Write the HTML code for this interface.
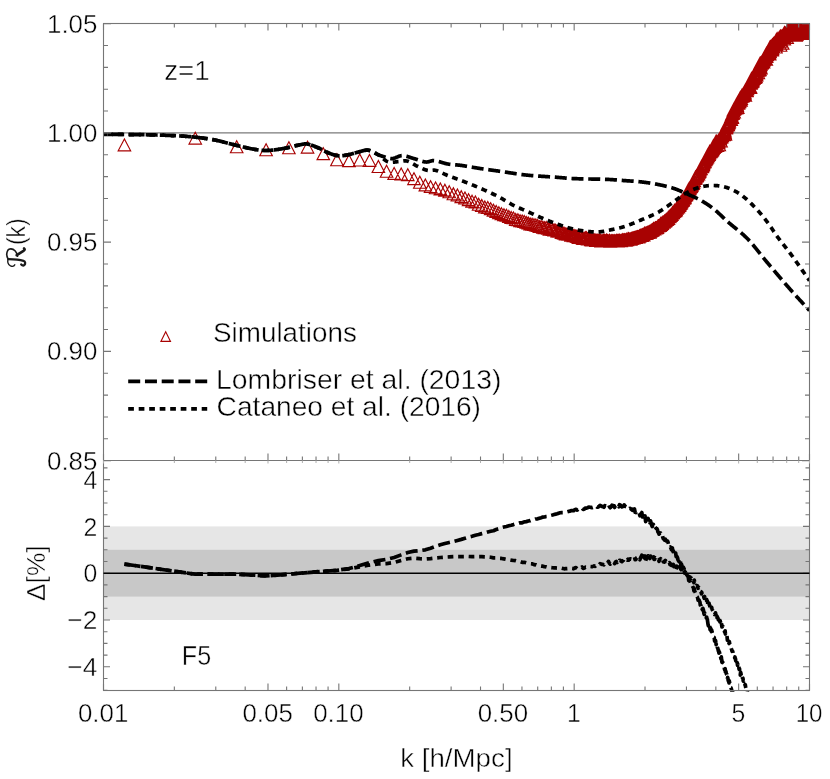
<!DOCTYPE html><html><head><meta charset="utf-8"><title>plot</title><style>html,body{margin:0;padding:0;background:#fff}svg{display:block}text{font-family:"Liberation Sans",sans-serif;fill:#000;stroke:#fff;stroke-width:0.45px}</style></head><body>
<svg width="830" height="779" viewBox="0 0 830 779">
<rect width="830" height="779" fill="#fff"/>
<g style="mix-blend-mode:multiply"><rect x="0" y="0" width="1" height="1" fill="#fff"/></g>
<defs><clipPath id="ct"><rect x="103.5" y="23.0" width="706.5" height="437.5"/></clipPath><clipPath id="cb"><rect x="103.5" y="460.5" width="706.0" height="231.2"/></clipPath></defs>
<rect x="103.5" y="526.40" width="706.0" height="93.60" fill="#e6e6e6"/>
<rect x="103.5" y="549.80" width="706.0" height="46.80" fill="#c8c8c8"/>
<line x1="103.5" x2="809.5" y1="132.9" y2="132.9" stroke="#7a7a7a" stroke-width="1.2"/>
<g clip-path="url(#ct)"><path d="M118.16 150.80 L130.66 150.80 L124.41 138.90 Z M189.00 144.05 L201.50 144.05 L195.25 132.15 Z M230.44 152.75 L242.94 152.75 L236.69 140.85 Z M259.84 155.75 L272.34 155.75 L266.09 143.85 Z M282.65 153.75 L295.15 153.75 L288.90 141.85 Z M301.28 153.05 L313.78 153.05 L307.53 141.15 Z M317.04 159.65 L329.54 159.65 L323.29 147.75 Z M330.69 165.75 L343.19 165.75 L336.94 153.85 Z M342.72 166.65 L355.22 166.65 L348.97 154.75 Z M353.49 165.95 L365.99 165.95 L359.74 154.05 Z M363.23 166.35 L375.73 166.35 L369.48 154.45 Z M372.13 172.45 L384.63 172.45 L378.38 160.55 Z M380.31 177.25 L392.81 177.25 L386.56 165.35 Z M387.88 179.35 L400.38 179.35 L394.13 167.45 Z M394.93 179.95 L407.43 179.95 L401.18 168.05 Z M401.53 180.55 L414.03 180.55 L407.78 168.65 Z M407.72 184.55 L420.22 184.55 L413.97 172.65 Z M413.57 188.25 L426.07 188.25 L419.82 176.35 Z M419.09 190.94 L431.59 190.94 L425.34 179.04 Z M424.33 192.52 L436.83 192.52 L430.58 180.62 Z M429.32 193.77 L441.82 193.77 L435.57 181.87 Z M434.07 194.89 L446.57 194.89 L440.32 182.99 Z M438.62 196.13 L451.12 196.13 L444.87 184.23 Z M442.97 197.75 L455.47 197.75 L449.22 185.85 Z M447.14 199.76 L459.64 199.76 L453.39 187.86 Z M451.15 200.96 L463.65 200.96 L457.40 189.06 Z M455.01 202.64 L467.51 202.64 L461.26 190.74 Z M458.72 203.97 L471.22 203.97 L464.97 192.07 Z M462.31 205.64 L474.81 205.64 L468.56 193.74 Z M465.77 207.08 L478.27 207.08 L472.02 195.18 Z M469.13 207.92 L481.63 207.92 L475.38 196.02 Z M472.37 210.24 L484.87 210.24 L478.62 198.34 Z M475.52 211.51 L488.02 211.51 L481.77 199.61 Z M478.57 212.86 L491.07 212.86 L484.82 200.96 Z M481.53 213.38 L494.03 213.38 L487.78 201.48 Z M484.41 214.60 L496.91 214.60 L490.66 202.70 Z M487.21 216.08 L499.71 216.08 L493.46 204.18 Z M489.93 217.34 L502.43 217.34 L496.18 205.44 Z M492.59 218.67 L505.09 218.67 L498.84 206.77 Z M495.18 219.55 L507.68 219.55 L501.43 207.65 Z M497.70 220.71 L510.20 220.71 L503.95 208.81 Z M500.16 221.23 L512.66 221.23 L506.41 209.33 Z M502.57 222.44 L515.07 222.44 L508.82 210.54 Z M504.92 223.32 L517.42 223.32 L511.17 211.42 Z M507.21 223.77 L519.71 223.77 L513.46 211.87 Z M509.46 225.40 L521.96 225.40 L515.71 213.50 Z M511.66 225.76 L524.16 225.76 L517.91 213.86 Z M513.81 226.72 L526.31 226.72 L520.06 214.82 Z M515.92 226.81 L528.42 226.81 L522.17 214.91 Z M517.98 227.46 L530.48 227.46 L524.23 215.56 Z M520.01 228.28 L532.51 228.28 L526.26 216.38 Z M521.99 229.01 L534.49 229.01 L528.24 217.11 Z M523.94 229.85 L536.44 229.85 L530.19 217.95 Z M525.85 230.26 L538.35 230.26 L532.10 218.36 Z M527.72 230.52 L540.22 230.52 L533.97 218.62 Z M529.57 230.82 L542.07 230.82 L535.82 218.92 Z M531.37 231.44 L543.87 231.44 L537.62 219.54 Z M533.15 232.52 L545.65 232.52 L539.40 220.62 Z M534.90 232.27 L547.40 232.27 L541.15 220.37 Z M536.62 233.09 L549.12 233.09 L542.87 221.19 Z M538.31 233.59 L550.81 233.59 L544.56 221.69 Z M539.97 233.34 L552.47 233.34 L546.22 221.44 Z M541.60 234.29 L554.10 234.29 L547.85 222.39 Z M543.21 235.13 L555.71 235.13 L549.46 223.23 Z M544.80 234.38 L557.30 234.38 L551.05 222.48 Z M546.36 235.37 L558.86 235.37 L552.61 223.47 Z M547.89 235.86 L560.39 235.86 L554.14 223.96 Z M549.41 236.02 L561.91 236.02 L555.66 224.12 Z M550.90 236.90 L563.40 236.90 L557.15 225.00 Z M552.37 237.13 L564.87 237.13 L558.62 225.23 Z M553.82 237.08 L566.32 237.08 L560.07 225.18 Z M555.25 238.33 L567.75 238.33 L561.50 226.43 Z M556.66 238.72 L569.16 238.72 L562.91 226.82 Z M558.05 239.27 L570.55 239.27 L564.30 227.37 Z M559.42 239.88 L571.92 239.88 L565.67 227.98 Z M560.78 239.93 L573.28 239.93 L567.03 228.03 Z M562.11 240.27 L574.61 240.27 L568.36 228.37 Z M563.43 240.17 L575.93 240.17 L569.68 228.27 Z M564.73 241.22 L577.23 241.22 L570.98 229.32 Z M566.02 241.16 L578.52 241.16 L572.27 229.26 Z M567.29 241.55 L579.79 241.55 L573.54 229.65 Z M568.54 241.58 L581.04 241.58 L574.79 229.68 Z M569.78 241.99 L582.28 241.99 L576.03 230.09 Z M571.01 242.44 L583.51 242.44 L577.26 230.54 Z M572.21 243.37 L584.71 243.37 L578.46 231.47 Z M573.41 242.48 L585.91 242.48 L579.66 230.58 Z M574.59 242.94 L587.09 242.94 L580.84 231.04 Z M575.76 243.79 L588.26 243.79 L582.01 231.89 Z M576.91 244.45 L589.41 244.45 L583.16 232.55 Z M578.06 244.37 L590.56 244.37 L584.31 232.47 Z M579.19 243.72 L591.69 243.72 L585.44 231.82 Z M580.30 243.71 L592.80 243.71 L586.55 231.81 Z M581.41 244.91 L593.91 244.91 L587.66 233.01 Z M582.50 244.71 L595.00 244.71 L588.75 232.81 Z M583.58 244.74 L596.08 244.74 L589.83 232.84 Z M584.65 245.64 L597.15 245.64 L590.90 233.74 Z M585.71 245.83 L598.21 245.83 L591.96 233.93 Z M586.76 245.63 L599.26 245.63 L593.01 233.73 Z M587.80 245.79 L600.30 245.79 L594.05 233.89 Z M588.82 245.98 L601.32 245.98 L595.07 234.08 Z M589.84 246.50 L602.34 246.50 L596.09 234.60 Z M590.85 246.26 L603.35 246.26 L597.10 234.36 Z M591.85 246.32 L604.35 246.32 L598.10 234.42 Z M592.83 246.41 L605.33 246.41 L599.08 234.51 Z M593.81 245.75 L606.31 245.75 L600.06 233.85 Z M594.78 246.82 L607.28 246.82 L601.03 234.92 Z M595.74 246.77 L608.24 246.77 L601.99 234.87 Z M596.69 246.67 L609.19 246.67 L602.94 234.77 Z M597.63 245.84 L610.13 245.84 L603.88 233.94 Z M598.57 246.35 L611.07 246.35 L604.82 234.45 Z M599.49 246.90 L611.99 246.90 L605.74 235.00 Z M600.41 246.00 L612.91 246.00 L606.66 234.10 Z M601.32 246.59 L613.82 246.59 L607.57 234.69 Z M602.22 247.02 L614.72 247.02 L608.47 235.12 Z M603.11 246.22 L615.61 246.22 L609.36 234.32 Z M603.99 247.25 L616.49 247.25 L610.24 235.35 Z M604.87 246.89 L617.37 246.89 L611.12 234.99 Z M605.74 246.64 L618.24 246.64 L611.99 234.74 Z M606.60 246.80 L619.10 246.80 L612.85 234.90 Z M607.46 246.91 L619.96 246.91 L613.71 235.01 Z M608.31 246.70 L620.81 246.70 L614.56 234.80 Z M609.15 247.04 L621.65 247.04 L615.40 235.14 Z M609.98 246.38 L622.48 246.38 L616.23 234.48 Z M610.81 246.43 L623.31 246.43 L617.06 234.53 Z M611.63 246.90 L624.13 246.90 L617.88 235.00 Z M612.45 246.49 L624.95 246.49 L618.70 234.59 Z M613.25 246.11 L625.75 246.11 L619.50 234.21 Z M614.05 246.68 L626.55 246.68 L620.30 234.78 Z M614.85 246.78 L627.35 246.78 L621.10 234.88 Z M615.64 246.03 L628.14 246.03 L621.89 234.13 Z M616.42 245.60 L628.92 245.60 L622.67 233.70 Z M617.20 245.93 L629.70 245.93 L623.45 234.03 Z M617.97 245.81 L630.47 245.81 L624.22 233.91 Z M618.74 245.63 L631.24 245.63 L624.99 233.73 Z M619.50 246.10 L632.00 246.10 L625.75 234.20 Z M620.25 245.11 L632.75 245.11 L626.50 233.21 Z M621.00 245.77 L633.50 245.77 L627.25 233.87 Z M621.74 244.73 L634.24 244.73 L627.99 232.83 Z M622.48 244.75 L634.98 244.75 L628.73 232.85 Z M623.21 245.08 L635.71 245.08 L629.46 233.18 Z M623.94 245.09 L636.44 245.09 L630.19 233.19 Z M624.66 244.83 L637.16 244.83 L630.91 232.93 Z M625.38 244.47 L637.88 244.47 L631.63 232.57 Z M626.09 244.21 L638.59 244.21 L632.34 232.31 Z M626.80 244.03 L639.30 244.03 L633.05 232.13 Z M627.50 243.98 L640.00 243.98 L633.75 232.08 Z M628.20 243.52 L640.70 243.52 L634.45 231.62 Z M628.89 243.47 L641.39 243.47 L635.14 231.57 Z M629.58 243.36 L642.08 243.36 L635.83 231.46 Z M630.26 242.94 L642.76 242.94 L636.51 231.04 Z M630.94 242.99 L643.44 242.99 L637.19 231.09 Z M631.62 242.69 L644.12 242.69 L637.87 230.79 Z M632.29 242.96 L644.79 242.96 L638.54 231.06 Z M632.95 242.13 L645.45 242.13 L639.20 230.23 Z M633.62 241.62 L646.12 241.62 L639.87 229.72 Z M634.27 241.39 L646.77 241.39 L640.52 229.49 Z M634.93 241.25 L647.43 241.25 L641.18 229.35 Z M635.58 241.32 L648.08 241.32 L641.83 229.42 Z M636.22 240.62 L648.72 240.62 L642.47 228.72 Z M636.86 240.61 L649.36 240.61 L643.11 228.71 Z M637.50 240.85 L650.00 240.85 L643.75 228.95 Z M638.13 239.04 L650.63 239.04 L644.38 227.14 Z M638.76 239.27 L651.26 239.27 L645.01 227.37 Z M639.38 239.47 L651.88 239.47 L645.63 227.57 Z M640.01 239.24 L652.51 239.24 L646.26 227.34 Z M640.62 238.90 L653.12 238.90 L646.87 227.00 Z M641.24 238.38 L653.74 238.38 L647.49 226.48 Z M641.85 238.47 L654.35 238.47 L648.10 226.57 Z M642.45 238.04 L654.95 238.04 L648.70 226.14 Z M643.06 237.46 L655.56 237.46 L649.31 225.56 Z M643.66 238.18 L656.16 238.18 L649.91 226.28 Z M644.25 237.15 L656.75 237.15 L650.50 225.25 Z M644.84 236.51 L657.34 236.51 L651.09 224.61 Z M645.43 236.35 L657.93 236.35 L651.68 224.45 Z M646.02 235.98 L658.52 235.98 L652.27 224.08 Z M646.60 235.70 L659.10 235.70 L652.85 223.80 Z M647.18 234.43 L659.68 234.43 L653.43 222.53 Z M647.76 234.87 L660.26 234.87 L654.01 222.97 Z M648.33 235.04 L660.83 235.04 L654.58 223.14 Z M648.90 233.93 L661.40 233.93 L655.15 222.03 Z M649.47 233.95 L661.97 233.95 L655.72 222.05 Z M650.03 233.94 L662.53 233.94 L656.28 222.04 Z M650.59 233.53 L663.09 233.53 L656.84 221.63 Z M651.15 233.37 L663.65 233.37 L657.40 221.47 Z M651.70 231.86 L664.20 231.86 L657.95 219.96 Z M652.25 231.94 L664.75 231.94 L658.50 220.04 Z M652.80 231.54 L665.30 231.54 L659.05 219.64 Z M653.34 231.47 L665.84 231.47 L659.59 219.57 Z M653.89 231.21 L666.39 231.21 L660.14 219.31 Z M654.42 229.47 L666.92 229.47 L660.67 217.57 Z M654.96 230.36 L667.46 230.36 L661.21 218.46 Z M655.49 229.03 L667.99 229.03 L661.74 217.13 Z M656.03 229.34 L668.53 229.34 L662.28 217.44 Z M656.55 228.13 L669.05 228.13 L662.80 216.23 Z M657.08 228.26 L669.58 228.26 L663.33 216.36 Z M657.60 228.16 L670.10 228.16 L663.85 216.26 Z M658.12 227.23 L670.62 227.23 L664.37 215.33 Z M658.64 226.88 L671.14 226.88 L664.89 214.98 Z M659.15 226.62 L671.65 226.62 L665.40 214.72 Z M659.67 225.91 L672.17 225.91 L665.92 214.01 Z M660.18 225.35 L672.68 225.35 L666.43 213.45 Z M660.68 225.44 L673.18 225.44 L666.93 213.54 Z M661.19 224.78 L673.69 224.78 L667.44 212.88 Z M661.69 223.82 L674.19 223.82 L667.94 211.92 Z M662.19 224.40 L674.69 224.40 L668.44 212.50 Z M662.69 222.52 L675.19 222.52 L668.94 210.62 Z M663.18 222.76 L675.68 222.76 L669.43 210.86 Z M663.68 221.83 L676.18 221.83 L669.93 209.93 Z M664.17 221.47 L676.67 221.47 L670.42 209.57 Z M664.65 221.18 L677.15 221.18 L670.90 209.28 Z M665.14 220.49 L677.64 220.49 L671.39 208.59 Z M665.62 220.14 L678.12 220.14 L671.87 208.24 Z M666.10 218.80 L678.60 218.80 L672.35 206.90 Z M666.58 218.29 L679.08 218.29 L672.83 206.39 Z M667.06 218.59 L679.56 218.59 L673.31 206.69 Z M667.53 217.45 L680.03 217.45 L673.78 205.55 Z M668.00 216.89 L680.50 216.89 L674.25 204.99 Z M668.47 216.17 L680.97 216.17 L674.72 204.27 Z M668.94 216.71 L681.44 216.71 L675.19 204.81 Z M669.41 215.94 L681.91 215.94 L675.66 204.04 Z M669.87 215.67 L682.37 215.67 L676.12 203.77 Z M670.33 214.11 L682.83 214.11 L676.58 202.21 Z M670.79 213.91 L683.29 213.91 L677.04 202.01 Z M671.25 212.84 L683.75 212.84 L677.50 200.94 Z M671.71 213.03 L684.21 213.03 L677.96 201.13 Z M672.16 212.78 L684.66 212.78 L678.41 200.88 Z M672.61 211.10 L685.11 211.10 L678.86 199.20 Z M673.06 211.54 L685.56 211.54 L679.31 199.64 Z M673.51 210.66 L686.01 210.66 L679.76 198.76 Z M673.95 209.52 L686.45 209.52 L680.20 197.62 Z M674.39 208.09 L686.89 208.09 L680.64 196.19 Z M674.84 208.94 L687.34 208.94 L681.09 197.04 Z M675.28 207.62 L687.78 207.62 L681.53 195.72 Z M675.71 206.73 L688.21 206.73 L681.96 194.83 Z M676.15 206.53 L688.65 206.53 L682.40 194.63 Z M676.58 205.87 L689.08 205.87 L682.83 193.97 Z M677.02 205.71 L689.52 205.71 L683.27 193.81 Z M677.45 203.87 L689.95 203.87 L683.70 191.97 Z M677.87 204.20 L690.37 204.20 L684.12 192.30 Z M678.30 203.69 L690.80 203.69 L684.55 191.79 Z M678.73 202.99 L691.23 202.99 L684.98 191.09 Z M679.15 201.52 L691.65 201.52 L685.40 189.62 Z M679.57 200.56 L692.07 200.56 L685.82 188.66 Z M679.99 200.71 L692.49 200.71 L686.24 188.81 Z M680.41 199.58 L692.91 199.58 L686.66 187.68 Z M680.82 198.88 L693.32 198.88 L687.07 186.98 Z M681.24 198.82 L693.74 198.82 L687.49 186.92 Z M681.65 197.28 L694.15 197.28 L687.90 185.38 Z M682.06 195.55 L694.56 195.55 L688.31 183.65 Z M682.47 195.80 L694.97 195.80 L688.72 183.90 Z M682.88 194.34 L695.38 194.34 L689.13 182.44 Z M683.29 195.00 L695.79 195.00 L689.54 183.10 Z M683.69 194.03 L696.19 194.03 L689.94 182.13 Z M684.10 192.84 L696.60 192.84 L690.35 180.94 Z M684.50 192.45 L697.00 192.45 L690.75 180.55 Z M684.90 192.18 L697.40 192.18 L691.15 180.28 Z M685.30 191.08 L697.80 191.08 L691.55 179.18 Z M685.69 191.04 L698.19 191.04 L691.94 179.14 Z M686.09 189.60 L698.59 189.60 L692.34 177.70 Z M686.48 189.49 L698.98 189.49 L692.73 177.59 Z M686.87 189.04 L699.37 189.04 L693.12 177.14 Z M687.26 188.42 L699.76 188.42 L693.51 176.52 Z M687.65 186.48 L700.15 186.48 L693.90 174.58 Z M688.04 186.64 L700.54 186.64 L694.29 174.74 Z M688.43 184.43 L700.93 184.43 L694.68 172.53 Z M688.81 184.18 L701.31 184.18 L695.06 172.28 Z M689.20 183.00 L701.70 183.00 L695.45 171.10 Z M689.58 184.04 L702.08 184.04 L695.83 172.14 Z M689.96 182.06 L702.46 182.06 L696.21 170.16 Z M690.34 182.09 L702.84 182.09 L696.59 170.19 Z M690.72 181.32 L703.22 181.32 L696.97 169.42 Z M691.09 180.75 L703.59 180.75 L697.34 168.85 Z M691.47 179.76 L703.97 179.76 L697.72 167.86 Z M691.84 179.58 L704.34 179.58 L698.09 167.68 Z M692.21 179.84 L704.71 179.84 L698.46 167.94 Z M692.59 178.14 L705.09 178.14 L698.84 166.24 Z M692.95 177.76 L705.45 177.76 L699.20 165.86 Z M693.32 177.38 L705.82 177.38 L699.57 165.48 Z M693.69 176.00 L706.19 176.00 L699.94 164.10 Z M694.06 174.69 L706.56 174.69 L700.31 162.79 Z M694.42 174.45 L706.92 174.45 L700.67 162.55 Z M694.78 174.79 L707.28 174.79 L701.03 162.89 Z M695.15 172.45 L707.65 172.45 L701.40 160.55 Z M695.51 172.44 L708.01 172.44 L701.76 160.54 Z M695.86 172.78 L708.36 172.78 L702.11 160.88 Z M696.22 172.00 L708.72 172.00 L702.47 160.10 Z M696.58 170.85 L709.08 170.85 L702.83 158.95 Z M696.94 170.71 L709.44 170.71 L703.19 158.81 Z M697.29 169.66 L709.79 169.66 L703.54 157.76 Z M697.64 168.16 L710.14 168.16 L703.89 156.26 Z M697.99 167.27 L710.49 167.27 L704.24 155.37 Z M698.34 167.23 L710.84 167.23 L704.59 155.33 Z M698.69 167.61 L711.19 167.61 L704.94 155.71 Z M699.04 166.02 L711.54 166.02 L705.29 154.12 Z M699.39 165.17 L711.89 165.17 L705.64 153.27 Z M699.74 164.64 L712.24 164.64 L705.99 152.74 Z M700.08 163.52 L712.58 163.52 L706.33 151.62 Z M700.42 163.86 L712.92 163.86 L706.67 151.96 Z M700.77 162.54 L713.27 162.54 L707.02 150.64 Z M701.11 162.99 L713.61 162.99 L707.36 151.09 Z M701.45 160.55 L713.95 160.55 L707.70 148.65 Z M701.79 161.79 L714.29 161.79 L708.04 149.89 Z M702.12 160.55 L714.62 160.55 L708.37 148.65 Z M702.46 159.09 L714.96 159.09 L708.71 147.19 Z M702.80 160.36 L715.30 160.36 L709.05 148.46 Z M703.13 159.11 L715.63 159.11 L709.38 147.21 Z M703.46 157.20 L715.96 157.20 L709.71 145.30 Z M703.80 157.60 L716.30 157.60 L710.05 145.70 Z M704.13 157.88 L716.63 157.88 L710.38 145.98 Z M704.46 156.83 L716.96 156.83 L710.71 144.93 Z M704.79 157.20 L717.29 157.20 L711.04 145.30 Z M705.12 156.68 L717.62 156.68 L711.37 144.78 Z M705.44 156.13 L717.94 156.13 L711.69 144.23 Z M705.77 155.40 L718.27 155.40 L712.02 143.50 Z M706.09 155.65 L718.59 155.65 L712.34 143.75 Z M706.42 154.70 L718.92 154.70 L712.67 142.80 Z M706.74 154.08 L719.24 154.08 L712.99 142.18 Z M707.06 151.76 L719.56 151.76 L713.31 139.86 Z M707.38 153.50 L719.88 153.50 L713.63 141.60 Z M707.70 153.36 L720.20 153.36 L713.95 141.46 Z M708.02 151.72 L720.52 151.72 L714.27 139.82 Z M708.34 151.15 L720.84 151.15 L714.59 139.25 Z M708.66 152.52 L721.16 152.52 L714.91 140.62 Z M708.97 149.29 L721.47 149.29 L715.22 137.39 Z M709.29 150.55 L721.79 150.55 L715.54 138.65 Z M709.60 151.60 L722.10 151.60 L715.85 139.70 Z M709.91 147.01 L722.41 147.01 L716.16 135.11 Z M710.23 149.08 L722.73 149.08 L716.48 137.18 Z M710.54 147.62 L723.04 147.62 L716.79 135.72 Z M710.85 148.42 L723.35 148.42 L717.10 136.52 Z M711.16 151.52 L723.66 151.52 L717.41 139.62 Z M711.47 148.31 L723.97 148.31 L717.72 136.41 Z M711.77 147.44 L724.27 147.44 L718.02 135.54 Z M712.08 146.38 L724.58 146.38 L718.33 134.48 Z M712.39 147.98 L724.89 147.98 L718.64 136.08 Z M712.69 146.33 L725.19 146.33 L718.94 134.43 Z M712.99 150.70 L725.49 150.70 L719.24 138.80 Z M713.30 144.91 L725.80 144.91 L719.55 133.01 Z M713.60 144.66 L726.10 144.66 L719.85 132.76 Z M713.90 144.24 L726.40 144.24 L720.15 132.34 Z M714.20 143.14 L726.70 143.14 L720.45 131.24 Z M714.50 143.16 L727.00 143.16 L720.75 131.26 Z M714.80 147.02 L727.30 147.02 L721.05 135.12 Z M715.09 141.41 L727.59 141.41 L721.34 129.51 Z M715.39 143.02 L727.89 143.02 L721.64 131.12 Z M715.69 141.64 L728.19 141.64 L721.94 129.74 Z M715.98 141.70 L728.48 141.70 L722.23 129.80 Z M716.28 140.61 L728.78 140.61 L722.53 128.71 Z M716.57 138.54 L729.07 138.54 L722.82 126.64 Z M716.86 138.97 L729.36 138.97 L723.11 127.07 Z M717.15 138.17 L729.65 138.17 L723.40 126.27 Z M717.44 138.13 L729.94 138.13 L723.69 126.23 Z M717.73 140.74 L730.23 140.74 L723.98 128.84 Z M718.02 136.92 L730.52 136.92 L724.27 125.02 Z M718.31 135.55 L730.81 135.55 L724.56 123.65 Z M718.60 136.85 L731.10 136.85 L724.85 124.95 Z M718.89 138.63 L731.39 138.63 L725.14 126.73 Z M719.17 140.12 L731.67 140.12 L725.42 128.22 Z M719.46 133.21 L731.96 133.21 L725.71 121.31 Z M719.74 132.99 L732.24 132.99 L725.99 121.09 Z M720.02 133.86 L732.52 133.86 L726.27 121.96 Z M720.31 133.00 L732.81 133.00 L726.56 121.10 Z M720.59 131.84 L733.09 131.84 L726.84 119.94 Z M720.87 130.03 L733.37 130.03 L727.12 118.13 Z M721.15 131.01 L733.65 131.01 L727.40 119.11 Z M721.43 129.50 L733.93 129.50 L727.68 117.60 Z M721.71 128.39 L734.21 128.39 L727.96 116.49 Z M721.99 130.65 L734.49 130.65 L728.24 118.75 Z M722.26 129.12 L734.76 129.12 L728.51 117.22 Z M722.54 127.82 L735.04 127.82 L728.79 115.92 Z M722.82 128.07 L735.32 128.07 L729.07 116.17 Z M723.09 126.85 L735.59 126.85 L729.34 114.95 Z M723.37 125.24 L735.87 125.24 L729.62 113.34 Z M723.64 125.43 L736.14 125.43 L729.89 113.53 Z M723.91 124.71 L736.41 124.71 L730.16 112.81 Z M724.19 124.40 L736.69 124.40 L730.44 112.50 Z M724.46 124.11 L736.96 124.11 L730.71 112.21 Z M724.73 122.20 L737.23 122.20 L730.98 110.30 Z M725.00 125.33 L737.50 125.33 L731.25 113.43 Z M725.27 122.02 L737.77 122.02 L731.52 110.12 Z M725.54 120.03 L738.04 120.03 L731.79 108.13 Z M725.80 123.48 L738.30 123.48 L732.05 111.58 Z M726.07 122.85 L738.57 122.85 L732.32 110.95 Z M726.34 119.42 L738.84 119.42 L732.59 107.52 Z M726.60 118.50 L739.10 118.50 L732.85 106.60 Z M726.87 119.02 L739.37 119.02 L733.12 107.12 Z M727.13 116.47 L739.63 116.47 L733.38 104.57 Z M727.40 115.50 L739.90 115.50 L733.65 103.60 Z M727.66 114.96 L740.16 114.96 L733.91 103.06 Z M727.92 118.02 L740.42 118.02 L734.17 106.12 Z M728.18 114.96 L740.68 114.96 L734.43 103.06 Z M728.44 114.40 L740.94 114.40 L734.69 102.50 Z M728.71 113.07 L741.21 113.07 L734.96 101.17 Z M728.96 112.54 L741.46 112.54 L735.21 100.64 Z M729.22 112.04 L741.72 112.04 L735.47 100.14 Z M729.48 112.48 L741.98 112.48 L735.73 100.58 Z M729.74 112.74 L742.24 112.74 L735.99 100.84 Z M730.00 110.61 L742.50 110.61 L736.25 98.71 Z M730.25 113.97 L742.75 113.97 L736.50 102.07 Z M730.51 110.16 L743.01 110.16 L736.76 98.26 Z M730.76 111.74 L743.26 111.74 L737.01 99.84 Z M731.02 110.98 L743.52 110.98 L737.27 99.08 Z M731.27 108.47 L743.77 108.47 L737.52 96.57 Z M731.53 113.31 L744.03 113.31 L737.78 101.41 Z M731.78 108.58 L744.28 108.58 L738.03 96.68 Z M732.03 107.06 L744.53 107.06 L738.28 95.16 Z M732.28 109.15 L744.78 109.15 L738.53 97.25 Z M732.53 107.95 L745.03 107.95 L738.78 96.05 Z M732.78 106.77 L745.28 106.77 L739.03 94.87 Z M733.03 108.02 L745.53 108.02 L739.28 96.12 Z M733.28 107.19 L745.78 107.19 L739.53 95.29 Z M733.53 105.54 L746.03 105.54 L739.78 93.64 Z M733.78 104.65 L746.28 104.65 L740.03 92.75 Z M734.03 103.44 L746.53 103.44 L740.28 91.54 Z M734.27 104.99 L746.77 104.99 L740.52 93.09 Z M734.52 104.38 L747.02 104.38 L740.77 92.48 Z M734.76 106.05 L747.26 106.05 L741.01 94.15 Z M735.01 104.51 L747.51 104.51 L741.26 92.61 Z M735.25 102.30 L747.75 102.30 L741.50 90.40 Z M735.50 101.32 L748.00 101.32 L741.75 89.42 Z M735.74 101.17 L748.24 101.17 L741.99 89.27 Z M735.98 101.74 L748.48 101.74 L742.23 89.84 Z M736.22 101.98 L748.72 101.98 L742.47 90.08 Z M736.46 100.72 L748.96 100.72 L742.71 88.82 Z M736.71 101.79 L749.21 101.79 L742.96 89.89 Z M736.95 100.49 L749.45 100.49 L743.20 88.59 Z M737.19 99.29 L749.69 99.29 L743.44 87.39 Z M737.42 99.88 L749.92 99.88 L743.67 87.98 Z M737.66 99.59 L750.16 99.59 L743.91 87.69 Z M737.90 100.14 L750.40 100.14 L744.15 88.24 Z M738.14 99.04 L750.64 99.04 L744.39 87.14 Z M738.38 98.04 L750.88 98.04 L744.63 86.14 Z M738.61 98.97 L751.11 98.97 L744.86 87.07 Z M738.85 96.50 L751.35 96.50 L745.10 84.60 Z M739.08 101.12 L751.58 101.12 L745.33 89.22 Z M739.32 96.77 L751.82 96.77 L745.57 84.87 Z M739.55 96.23 L752.05 96.23 L745.80 84.33 Z M739.78 96.54 L752.28 96.54 L746.03 84.64 Z M740.02 95.71 L752.52 95.71 L746.27 83.81 Z M740.25 95.27 L752.75 95.27 L746.50 83.37 Z M740.48 96.57 L752.98 96.57 L746.73 84.67 Z M740.71 96.11 L753.21 96.11 L746.96 84.21 Z M740.95 94.01 L753.45 94.01 L747.20 82.11 Z M741.18 94.78 L753.68 94.78 L747.43 82.88 Z M741.41 92.74 L753.91 92.74 L747.66 80.84 Z M741.63 92.67 L754.13 92.67 L747.88 80.77 Z M741.86 93.22 L754.36 93.22 L748.11 81.32 Z M742.09 92.56 L754.59 92.56 L748.34 80.66 Z M742.32 92.74 L754.82 92.74 L748.57 80.84 Z M742.55 91.41 L755.05 91.41 L748.80 79.51 Z M742.77 91.68 L755.27 91.68 L749.02 79.78 Z M743.00 91.84 L755.50 91.84 L749.25 79.94 Z M743.23 91.11 L755.73 91.11 L749.48 79.21 Z M743.45 88.94 L755.95 88.94 L749.70 77.04 Z M743.68 93.42 L756.18 93.42 L749.93 81.52 Z M743.90 88.99 L756.40 88.99 L750.15 77.09 Z M744.13 89.12 L756.63 89.12 L750.38 77.22 Z M744.35 93.05 L756.85 93.05 L750.60 81.15 Z M744.57 89.11 L757.07 89.11 L750.82 77.21 Z M744.79 88.75 L757.29 88.75 L751.04 76.85 Z M745.02 87.38 L757.52 87.38 L751.27 75.48 Z M745.24 84.49 L757.74 84.49 L751.49 72.59 Z M745.46 86.39 L757.96 86.39 L751.71 74.49 Z M745.68 87.59 L758.18 87.59 L751.93 75.69 Z M745.90 86.36 L758.40 86.36 L752.15 74.46 Z M746.12 86.18 L758.62 86.18 L752.37 74.28 Z M746.34 85.61 L758.84 85.61 L752.59 73.71 Z M746.56 86.93 L759.06 86.93 L752.81 75.03 Z M746.77 84.83 L759.27 84.83 L753.02 72.93 Z M746.99 84.52 L759.49 84.52 L753.24 72.62 Z M747.21 84.24 L759.71 84.24 L753.46 72.34 Z M747.43 83.62 L759.93 83.62 L753.68 71.72 Z M747.64 84.08 L760.14 84.08 L753.89 72.18 Z M747.86 81.34 L760.36 81.34 L754.11 69.44 Z M748.07 81.06 L760.57 81.06 L754.32 69.16 Z M748.29 81.48 L760.79 81.48 L754.54 69.58 Z M748.50 80.77 L761.00 80.77 L754.75 68.87 Z M748.72 83.40 L761.22 83.40 L754.97 71.50 Z M748.93 79.06 L761.43 79.06 L755.18 67.16 Z M749.14 78.58 L761.64 78.58 L755.39 66.68 Z M749.36 79.64 L761.86 79.64 L755.61 67.74 Z M749.57 80.25 L762.07 80.25 L755.82 68.35 Z M749.78 82.63 L762.28 82.63 L756.03 70.73 Z M749.99 76.78 L762.49 76.78 L756.24 64.88 Z M750.20 78.95 L762.70 78.95 L756.45 67.05 Z M750.41 80.83 L762.91 80.83 L756.66 68.93 Z M750.62 78.95 L763.12 78.95 L756.87 67.05 Z M750.83 76.04 L763.33 76.04 L757.08 64.14 Z M751.04 76.49 L763.54 76.49 L757.29 64.59 Z M751.25 76.59 L763.75 76.59 L757.50 64.69 Z M751.46 74.72 L763.96 74.72 L757.71 62.82 Z M751.67 73.14 L764.17 73.14 L757.92 61.24 Z M751.87 75.06 L764.37 75.06 L758.12 63.16 Z M752.08 78.70 L764.58 78.70 L758.33 66.80 Z M752.29 74.45 L764.79 74.45 L758.54 62.55 Z M752.49 76.09 L764.99 76.09 L758.74 64.19 Z M752.70 73.99 L765.20 73.99 L758.95 62.09 Z M752.91 73.64 L765.41 73.64 L759.16 61.74 Z M753.11 73.01 L765.61 73.01 L759.36 61.11 Z M753.32 72.61 L765.82 72.61 L759.57 60.71 Z M753.52 71.44 L766.02 71.44 L759.77 59.54 Z M753.72 75.66 L766.22 75.66 L759.97 63.76 Z M753.93 68.78 L766.43 68.78 L760.18 56.88 Z M754.13 71.56 L766.63 71.56 L760.38 59.66 Z M754.33 69.84 L766.83 69.84 L760.58 57.94 Z M754.53 70.35 L767.03 70.35 L760.78 58.45 Z M754.74 73.88 L767.24 73.88 L760.99 61.98 Z M754.94 68.70 L767.44 68.70 L761.19 56.80 Z M755.14 68.50 L767.64 68.50 L761.39 56.60 Z M755.34 69.23 L767.84 69.23 L761.59 57.33 Z M755.54 68.55 L768.04 68.55 L761.79 56.65 Z M755.74 68.43 L768.24 68.43 L761.99 56.53 Z M755.94 67.54 L768.44 67.54 L762.19 55.64 Z M756.14 66.85 L768.64 66.85 L762.39 54.95 Z M756.34 66.44 L768.84 66.44 L762.59 54.54 Z M756.53 66.78 L769.03 66.78 L762.78 54.88 Z M756.73 66.78 L769.23 66.78 L762.98 54.88 Z M756.93 65.44 L769.43 65.44 L763.18 53.54 Z M757.13 65.07 L769.63 65.07 L763.38 53.17 Z M757.32 67.90 L769.82 67.90 L763.57 56.00 Z M757.52 65.29 L770.02 65.29 L763.77 53.39 Z M757.72 65.85 L770.22 65.85 L763.97 53.95 Z M757.91 65.08 L770.41 65.08 L764.16 53.18 Z M758.11 64.95 L770.61 64.95 L764.36 53.05 Z M758.30 64.01 L770.80 64.01 L764.55 52.11 Z M758.50 63.73 L771.00 63.73 L764.75 51.83 Z M758.69 64.88 L771.19 64.88 L764.94 52.98 Z M758.88 61.53 L771.38 61.53 L765.13 49.63 Z M759.08 63.35 L771.58 63.35 L765.33 51.45 Z M759.27 61.79 L771.77 61.79 L765.52 49.89 Z M759.46 61.85 L771.96 61.85 L765.71 49.95 Z M759.66 61.28 L772.16 61.28 L765.91 49.38 Z M759.85 60.57 L772.35 60.57 L766.10 48.67 Z M760.04 65.07 L772.54 65.07 L766.29 53.17 Z M760.23 59.05 L772.73 59.05 L766.48 47.15 Z M760.42 62.41 L772.92 62.41 L766.67 50.51 Z M760.61 60.26 L773.11 60.26 L766.86 48.36 Z M760.80 60.65 L773.30 60.65 L767.05 48.75 Z M760.99 59.09 L773.49 59.09 L767.24 47.19 Z M761.18 59.24 L773.68 59.24 L767.43 47.34 Z M761.37 59.41 L773.87 59.41 L767.62 47.51 Z M761.56 58.17 L774.06 58.17 L767.81 46.27 Z M761.75 59.29 L774.25 59.29 L768.00 47.39 Z M761.94 58.14 L774.44 58.14 L768.19 46.24 Z M762.12 57.92 L774.62 57.92 L768.37 46.02 Z M762.31 57.44 L774.81 57.44 L768.56 45.54 Z M762.50 57.01 L775.00 57.01 L768.75 45.11 Z M762.68 58.57 L775.18 58.57 L768.93 46.67 Z M762.87 56.16 L775.37 56.16 L769.12 44.26 Z M763.06 58.91 L775.56 58.91 L769.31 47.01 Z M763.24 55.80 L775.74 55.80 L769.49 43.90 Z M763.43 59.97 L775.93 59.97 L769.68 48.07 Z M763.61 56.78 L776.11 56.78 L769.86 44.88 Z M763.80 57.77 L776.30 57.77 L770.05 45.87 Z M763.98 52.31 L776.48 52.31 L770.23 40.41 Z M764.17 55.12 L776.67 55.12 L770.42 43.22 Z M764.35 54.44 L776.85 54.44 L770.60 42.54 Z M764.53 55.34 L777.03 55.34 L770.78 43.44 Z M764.72 54.75 L777.22 54.75 L770.97 42.85 Z M764.90 55.48 L777.40 55.48 L771.15 43.58 Z M765.08 53.69 L777.58 53.69 L771.33 41.79 Z M765.26 51.80 L777.76 51.80 L771.51 39.90 Z M765.44 51.81 L777.94 51.81 L771.69 39.91 Z M765.63 54.23 L778.13 54.23 L771.88 42.33 Z M765.81 52.58 L778.31 52.58 L772.06 40.68 Z M765.99 55.97 L778.49 55.97 L772.24 44.07 Z M766.17 50.74 L778.67 50.74 L772.42 38.84 Z M766.35 54.59 L778.85 54.59 L772.60 42.69 Z M766.53 51.65 L779.03 51.65 L772.78 39.75 Z M766.71 51.93 L779.21 51.93 L772.96 40.03 Z M766.89 50.97 L779.39 50.97 L773.14 39.07 Z M767.07 49.92 L779.57 49.92 L773.32 38.02 Z M767.24 49.68 L779.74 49.68 L773.49 37.78 Z M767.42 49.54 L779.92 49.54 L773.67 37.64 Z M767.60 50.17 L780.10 50.17 L773.85 38.27 Z M767.78 49.78 L780.28 49.78 L774.03 37.88 Z M767.95 49.10 L780.45 49.10 L774.20 37.20 Z M768.13 49.44 L780.63 49.44 L774.38 37.54 Z M768.31 49.69 L780.81 49.69 L774.56 37.79 Z M768.48 50.30 L780.98 50.30 L774.73 38.40 Z M768.66 48.44 L781.16 48.44 L774.91 36.54 Z M768.84 48.65 L781.34 48.65 L775.09 36.75 Z M769.01 48.13 L781.51 48.13 L775.26 36.23 Z M769.19 48.70 L781.69 48.70 L775.44 36.80 Z M769.36 49.07 L781.86 49.07 L775.61 37.17 Z M769.54 48.35 L782.04 48.35 L775.79 36.45 Z M769.71 53.04 L782.21 53.04 L775.96 41.14 Z M769.88 45.98 L782.38 45.98 L776.13 34.08 Z M770.06 48.94 L782.56 48.94 L776.31 37.04 Z M770.23 50.42 L782.73 50.42 L776.48 38.52 Z M770.41 45.97 L782.91 45.97 L776.66 34.07 Z M770.58 48.92 L783.08 48.92 L776.83 37.02 Z M770.75 47.63 L783.25 47.63 L777.00 35.73 Z M770.92 44.38 L783.42 44.38 L777.17 32.48 Z M771.09 46.27 L783.59 46.27 L777.34 34.37 Z M771.27 46.14 L783.77 46.14 L777.52 34.24 Z M771.44 46.74 L783.94 46.74 L777.69 34.84 Z M771.61 47.15 L784.11 47.15 L777.86 35.25 Z M771.78 46.22 L784.28 46.22 L778.03 34.32 Z M771.95 46.18 L784.45 46.18 L778.20 34.28 Z M772.12 46.23 L784.62 46.23 L778.37 34.33 Z M772.29 46.58 L784.79 46.58 L778.54 34.68 Z M772.46 45.15 L784.96 45.15 L778.71 33.25 Z M772.63 45.26 L785.13 45.26 L778.88 33.36 Z M772.80 43.71 L785.30 43.71 L779.05 31.81 Z M772.97 44.57 L785.47 44.57 L779.22 32.67 Z M773.14 44.53 L785.64 44.53 L779.39 32.63 Z M773.30 43.68 L785.80 43.68 L779.55 31.78 Z M773.47 45.53 L785.97 45.53 L779.72 33.63 Z M773.64 44.17 L786.14 44.17 L779.89 32.27 Z M773.81 42.37 L786.31 42.37 L780.06 30.47 Z M773.97 45.27 L786.47 45.27 L780.22 33.37 Z M774.14 44.59 L786.64 44.59 L780.39 32.69 Z M774.31 51.21 L786.81 51.21 L780.56 39.31 Z M774.47 41.86 L786.97 41.86 L780.72 29.96 Z M774.64 44.51 L787.14 44.51 L780.89 32.61 Z M774.81 47.19 L787.31 47.19 L781.06 35.29 Z M774.97 43.43 L787.47 43.43 L781.22 31.53 Z M775.14 43.54 L787.64 43.54 L781.39 31.64 Z M775.30 42.72 L787.80 42.72 L781.55 30.82 Z M775.47 42.21 L787.97 42.21 L781.72 30.31 Z M775.63 42.69 L788.13 42.69 L781.88 30.79 Z M775.79 43.05 L788.29 43.05 L782.04 31.15 Z M775.96 42.19 L788.46 42.19 L782.21 30.29 Z M776.12 43.04 L788.62 43.04 L782.37 31.14 Z M776.29 42.01 L788.79 42.01 L782.54 30.11 Z M776.45 49.06 L788.95 49.06 L782.70 37.16 Z M776.61 41.71 L789.11 41.71 L782.86 29.81 Z M776.77 43.08 L789.27 43.08 L783.02 31.18 Z M776.94 40.76 L789.44 40.76 L783.19 28.86 Z M777.10 41.71 L789.60 41.71 L783.35 29.81 Z M777.26 40.62 L789.76 40.62 L783.51 28.72 Z M777.42 41.62 L789.92 41.62 L783.67 29.72 Z M777.58 40.52 L790.08 40.52 L783.83 28.62 Z M777.74 39.92 L790.24 39.92 L783.99 28.02 Z M777.90 40.79 L790.40 40.79 L784.15 28.89 Z M778.07 44.88 L790.57 44.88 L784.32 32.98 Z M778.23 38.28 L790.73 38.28 L784.48 26.38 Z M778.39 42.69 L790.89 42.69 L784.64 30.79 Z M778.55 40.97 L791.05 40.97 L784.80 29.07 Z M778.71 38.81 L791.21 38.81 L784.96 26.91 Z M778.86 39.73 L791.36 39.73 L785.11 27.83 Z M779.02 39.07 L791.52 39.07 L785.27 27.17 Z M779.18 39.41 L791.68 39.41 L785.43 27.51 Z M779.34 39.67 L791.84 39.67 L785.59 27.77 Z M779.50 39.89 L792.00 39.89 L785.75 27.99 Z M779.66 39.87 L792.16 39.87 L785.91 27.97 Z M779.82 41.54 L792.32 41.54 L786.07 29.64 Z M779.97 40.05 L792.47 40.05 L786.22 28.15 Z M780.13 40.57 L792.63 40.57 L786.38 28.67 Z M780.29 38.83 L792.79 38.83 L786.54 26.93 Z M780.44 39.40 L792.94 39.40 L786.69 27.50 Z M780.60 40.68 L793.10 40.68 L786.85 28.78 Z M780.76 39.42 L793.26 39.42 L787.01 27.52 Z M780.91 43.41 L793.41 43.41 L787.16 31.51 Z M781.07 37.45 L793.57 37.45 L787.32 25.55 Z M781.23 39.32 L793.73 39.32 L787.48 27.42 Z M781.38 38.44 L793.88 38.44 L787.63 26.54 Z M781.54 38.30 L794.04 38.30 L787.79 26.40 Z M781.69 36.33 L794.19 36.33 L787.94 24.43 Z M781.85 35.46 L794.35 35.46 L788.10 23.56 Z M782.00 38.43 L794.50 38.43 L788.25 26.53 Z M782.15 38.84 L794.65 38.84 L788.40 26.94 Z M782.31 35.51 L794.81 35.51 L788.56 23.61 Z M782.46 38.07 L794.96 38.07 L788.71 26.17 Z M782.62 37.28 L795.12 37.28 L788.87 25.38 Z M782.77 38.15 L795.27 38.15 L789.02 26.25 Z M782.92 37.22 L795.42 37.22 L789.17 25.32 Z M783.08 37.98 L795.58 37.98 L789.33 26.08 Z M783.23 38.55 L795.73 38.55 L789.48 26.65 Z M783.38 38.33 L795.88 38.33 L789.63 26.43 Z M783.53 37.71 L796.03 37.71 L789.78 25.81 Z M783.68 36.41 L796.18 36.41 L789.93 24.51 Z M783.84 35.16 L796.34 35.16 L790.09 23.26 Z M783.99 38.44 L796.49 38.44 L790.24 26.54 Z M784.14 38.25 L796.64 38.25 L790.39 26.35 Z M784.29 38.28 L796.79 38.28 L790.54 26.38 Z M784.44 36.11 L796.94 36.11 L790.69 24.21 Z M784.59 40.06 L797.09 40.06 L790.84 28.16 Z M784.74 39.34 L797.24 39.34 L790.99 27.44 Z M784.89 37.30 L797.39 37.30 L791.14 25.40 Z M785.04 36.09 L797.54 36.09 L791.29 24.19 Z M785.19 35.64 L797.69 35.64 L791.44 23.74 Z M785.34 38.43 L797.84 38.43 L791.59 26.53 Z M785.49 36.82 L797.99 36.82 L791.74 24.92 Z M785.64 36.41 L798.14 36.41 L791.89 24.51 Z M785.79 34.56 L798.29 34.56 L792.04 22.66 Z M785.94 34.08 L798.44 34.08 L792.19 22.18 Z M786.09 39.65 L798.59 39.65 L792.34 27.75 Z M786.23 36.68 L798.73 36.68 L792.48 24.78 Z M786.38 35.28 L798.88 35.28 L792.63 23.38 Z M786.53 37.13 L799.03 37.13 L792.78 25.23 Z M786.68 39.26 L799.18 39.26 L792.93 27.36 Z M786.82 38.18 L799.32 38.18 L793.07 26.28 Z M786.97 37.31 L799.47 37.31 L793.22 25.41 Z M787.12 37.09 L799.62 37.09 L793.37 25.19 Z M787.27 35.68 L799.77 35.68 L793.52 23.78 Z M787.41 35.90 L799.91 35.90 L793.66 24.00 Z M787.56 38.16 L800.06 38.16 L793.81 26.26 Z M787.70 38.37 L800.20 38.37 L793.95 26.47 Z M787.85 37.64 L800.35 37.64 L794.10 25.74 Z M788.00 37.17 L800.50 37.17 L794.25 25.27 Z M788.14 40.16 L800.64 40.16 L794.39 28.26 Z M788.29 36.68 L800.79 36.68 L794.54 24.78 Z M788.43 35.09 L800.93 35.09 L794.68 23.19 Z M788.58 37.48 L801.08 37.48 L794.83 25.58 Z M788.72 35.96 L801.22 35.96 L794.97 24.06 Z M788.87 39.48 L801.37 39.48 L795.12 27.58 Z M789.01 40.48 L801.51 40.48 L795.26 28.58 Z M789.15 40.89 L801.65 40.89 L795.40 28.99 Z M789.30 36.56 L801.80 36.56 L795.55 24.66 Z M789.44 35.67 L801.94 35.67 L795.69 23.77 Z M789.59 34.15 L802.09 34.15 L795.84 22.25 Z M789.73 35.78 L802.23 35.78 L795.98 23.88 Z M789.87 41.07 L802.37 41.07 L796.12 29.17 Z M790.01 36.75 L802.51 36.75 L796.26 24.85 Z M790.16 35.75 L802.66 35.75 L796.41 23.85 Z M790.30 35.62 L802.80 35.62 L796.55 23.72 Z M790.44 33.78 L802.94 33.78 L796.69 21.88 Z M790.58 36.14 L803.08 36.14 L796.83 24.24 Z M790.73 40.06 L803.23 40.06 L796.98 28.16 Z M790.87 36.21 L803.37 36.21 L797.12 24.31 Z M791.01 34.86 L803.51 34.86 L797.26 22.96 Z M791.15 33.42 L803.65 33.42 L797.40 21.52 Z M791.29 34.39 L803.79 34.39 L797.54 22.49 Z M791.43 35.17 L803.93 35.17 L797.68 23.27 Z M791.57 35.42 L804.07 35.42 L797.82 23.52 Z M791.71 37.32 L804.21 37.32 L797.96 25.42 Z M791.85 35.72 L804.35 35.72 L798.10 23.82 Z M791.99 35.41 L804.49 35.41 L798.24 23.51 Z M792.13 35.43 L804.63 35.43 L798.38 23.53 Z M792.27 32.58 L804.77 32.58 L798.52 20.68 Z M792.41 36.32 L804.91 36.32 L798.66 24.42 Z M792.55 34.76 L805.05 34.76 L798.80 22.86 Z M792.69 34.22 L805.19 34.22 L798.94 22.32 Z M792.83 34.11 L805.33 34.11 L799.08 22.21 Z M792.97 33.18 L805.47 33.18 L799.22 21.28 Z M793.11 35.93 L805.61 35.93 L799.36 24.03 Z M793.25 33.65 L805.75 33.65 L799.50 21.75 Z M793.38 36.23 L805.88 36.23 L799.63 24.33 Z M793.52 35.87 L806.02 35.87 L799.77 23.97 Z M793.66 37.13 L806.16 37.13 L799.91 25.23 Z M793.80 35.63 L806.30 35.63 L800.05 23.73 Z M793.93 35.67 L806.43 35.67 L800.18 23.77 Z M794.07 37.70 L806.57 37.70 L800.32 25.80 Z M794.21 36.00 L806.71 36.00 L800.46 24.10 Z M794.35 34.16 L806.85 34.16 L800.60 22.26 Z M794.48 34.00 L806.98 34.00 L800.73 22.10 Z M794.62 34.43 L807.12 34.43 L800.87 22.53 Z M794.76 34.79 L807.26 34.79 L801.01 22.89 Z M794.89 35.77 L807.39 35.77 L801.14 23.87 Z M795.03 35.12 L807.53 35.12 L801.28 23.22 Z M795.16 35.97 L807.66 35.97 L801.41 24.07 Z M795.30 35.20 L807.80 35.20 L801.55 23.30 Z M795.43 37.76 L807.93 37.76 L801.68 25.86 Z M795.57 35.92 L808.07 35.92 L801.82 24.02 Z M795.71 36.19 L808.21 36.19 L801.96 24.29 Z M795.84 33.82 L808.34 33.82 L802.09 21.92 Z M795.97 37.10 L808.47 37.10 L802.22 25.20 Z M796.11 36.59 L808.61 36.59 L802.36 24.69 Z M796.24 35.14 L808.74 35.14 L802.49 23.24 Z M796.38 35.49 L808.88 35.49 L802.63 23.59 Z M796.51 35.10 L809.01 35.10 L802.76 23.20 Z M796.65 34.18 L809.15 34.18 L802.90 22.28 Z M796.78 32.90 L809.28 32.90 L803.03 21.00 Z M796.91 39.23 L809.41 39.23 L803.16 27.33 Z M797.05 33.34 L809.55 33.34 L803.30 21.44 Z M797.18 36.17 L809.68 36.17 L803.43 24.27 Z M797.31 34.47 L809.81 34.47 L803.56 22.57 Z M797.45 35.11 L809.95 35.11 L803.70 23.21 Z M797.58 38.85 L810.08 38.85 L803.83 26.95 Z M797.71 34.61 L810.21 34.61 L803.96 22.71 Z M797.84 35.42 L810.34 35.42 L804.09 23.52 Z M797.98 35.28 L810.48 35.28 L804.23 23.38 Z M798.11 35.53 L810.61 35.53 L804.36 23.63 Z M798.24 34.51 L810.74 34.51 L804.49 22.61 Z M798.37 35.77 L810.87 35.77 L804.62 23.87 Z M798.50 34.42 L811.00 34.42 L804.75 22.52 Z M798.63 35.71 L811.13 35.71 L804.88 23.81 Z M798.76 37.19 L811.26 37.19 L805.01 25.29 Z M798.90 34.93 L811.40 34.93 L805.15 23.03 Z M799.03 34.87 L811.53 34.87 L805.28 22.97 Z M799.16 35.67 L811.66 35.67 L805.41 23.77 Z M799.29 33.51 L811.79 33.51 L805.54 21.61 Z M799.42 33.14 L811.92 33.14 L805.67 21.24 Z M799.55 36.90 L812.05 36.90 L805.80 25.00 Z M799.68 36.10 L812.18 36.10 L805.93 24.20 Z M799.81 35.38 L812.31 35.38 L806.06 23.48 Z M799.94 33.99 L812.44 33.99 L806.19 22.09 Z M800.07 35.23 L812.57 35.23 L806.32 23.33 Z M800.20 33.71 L812.70 33.71 L806.45 21.81 Z M800.32 35.61 L812.82 35.61 L806.57 23.71 Z M800.45 34.51 L812.95 34.51 L806.70 22.61 Z M800.58 34.28 L813.08 34.28 L806.83 22.38 Z M800.71 36.26 L813.21 36.26 L806.96 24.36 Z M800.84 33.64 L813.34 33.64 L807.09 21.74 Z M800.97 33.16 L813.47 33.16 L807.22 21.26 Z M801.10 36.04 L813.60 36.04 L807.35 24.14 Z M801.22 32.61 L813.72 32.61 L807.47 20.71 Z M801.35 35.84 L813.85 35.84 L807.60 23.94 Z M801.48 34.57 L813.98 34.57 L807.73 22.67 Z M801.61 37.11 L814.11 37.11 L807.86 25.21 Z M801.73 35.74 L814.23 35.74 L807.98 23.84 Z M801.86 36.00 L814.36 36.00 L808.11 24.10 Z M801.99 35.80 L814.49 35.80 L808.24 23.90 Z M802.12 36.17 L814.62 36.17 L808.37 24.27 Z M802.24 35.11 L814.74 35.11 L808.49 23.21 Z M802.37 34.59 L814.87 34.59 L808.62 22.69 Z M802.50 32.40 L815.00 32.40 L808.75 20.50 Z M802.62 37.65 L815.12 37.65 L808.87 25.75 Z M802.75 34.39 L815.25 34.39 L809.00 22.49 Z M802.87 35.51 L815.37 35.51 L809.12 23.61 Z M803.00 39.41 L815.50 39.41 L809.25 27.51 Z M803.13 36.41 L815.63 36.41 L809.38 24.51 Z" fill="none" stroke="#a80202" stroke-width="1.15" stroke-linejoin="miter"/></g>
<g clip-path="url(#ct)" fill="none" stroke="#000" stroke-width="3.7">
<path d="M103.50 134.30 L104.00 134.31 L104.50 134.31 L105.00 134.32 L105.50 134.32 L106.00 134.33 L106.50 134.33 L107.00 134.34 L107.50 134.34 L108.00 134.35 L108.50 134.35 L109.00 134.36 L109.50 134.36 L110.00 134.37 L110.50 134.37 L111.00 134.37 L111.50 134.38 L112.00 134.38 L112.50 134.39 L113.00 134.39 L113.50 134.40 L114.00 134.40 L114.50 134.40 L115.00 134.41 L115.50 134.41 L116.00 134.42 L116.50 134.42 L117.00 134.42 L117.50 134.43 L118.00 134.43 L118.50 134.44 L119.00 134.44 L119.50 134.45 L120.00 134.45 L120.50 134.45 L121.00 134.46 L121.50 134.46 L122.00 134.47 L122.50 134.47 L123.00 134.47 L123.50 134.48 L124.00 134.48 L124.50 134.49 L125.00 134.49 L125.50 134.50 L126.00 134.50 L126.50 134.50 L127.00 134.51 L127.50 134.51 L128.00 134.52 L128.50 134.52 L129.00 134.53 L129.50 134.53 L130.00 134.54 L130.50 134.54 L131.00 134.55 L131.50 134.55 L132.00 134.56 L132.50 134.56 L133.00 134.57 L133.50 134.57 L134.00 134.58 L134.50 134.59 L135.00 134.59 L135.50 134.60 L136.00 134.60 L136.50 134.61 L137.00 134.62 L137.50 134.62 L138.00 134.63 L138.50 134.64 L139.00 134.64 L139.50 134.65 L140.00 134.66 L140.50 134.67 L141.00 134.67 L141.50 134.68 L142.00 134.69 L142.50 134.70 L143.00 134.70 L143.50 134.71 L144.00 134.72 L144.50 134.73 L145.00 134.74 L145.50 134.75 L146.00 134.76 L146.50 134.77 L147.00 134.78 L147.50 134.79 L148.00 134.80 L148.50 134.81 L149.00 134.82 L149.50 134.83 L150.00 134.84 L150.50 134.85 L151.00 134.86 L151.50 134.87 L152.00 134.88 L152.50 134.90 L153.00 134.91 L153.50 134.92 L154.00 134.93 L154.50 134.94 L155.00 134.96 L155.50 134.97 L156.00 134.98 L156.50 135.00 L157.00 135.01 L157.50 135.03 L158.00 135.04 L158.50 135.05 L159.00 135.07 L159.50 135.08 L160.00 135.10 L160.50 135.12 L161.00 135.13 L161.50 135.15 L162.00 135.16 L162.50 135.18 L163.00 135.20 L163.50 135.22 L164.00 135.23 L164.50 135.25 L165.00 135.27 L165.50 135.29 L166.00 135.31 L166.50 135.32 L167.00 135.34 L167.50 135.36 L168.00 135.38 L168.50 135.40 L169.00 135.42 L169.50 135.44 L170.00 135.47 L170.50 135.49 L171.00 135.51 L171.50 135.53 L172.00 135.55 L172.50 135.58 L173.00 135.60 L173.50 135.62 L174.00 135.65 L174.50 135.67 L175.00 135.69 L175.50 135.72 L176.00 135.74 L176.50 135.77 L177.00 135.79 L177.50 135.82 L178.00 135.85 L178.50 135.87 L179.00 135.90 L179.50 135.93 L180.00 135.96 L180.50 135.99 L181.00 136.02 L181.50 136.05 L182.00 136.08 L182.50 136.11 L183.00 136.14 L183.50 136.17 L184.00 136.21 L184.50 136.24 L185.00 136.27 L185.50 136.31 L186.00 136.34 L186.50 136.38 L187.00 136.42 L187.50 136.46 L188.00 136.50 L188.50 136.54 L189.00 136.58 L189.50 136.62 L190.00 136.66 L190.50 136.71 L191.00 136.75 L191.50 136.80 L192.00 136.84 L192.50 136.89 L193.00 136.94 L193.50 136.99 L194.00 137.04 L194.50 137.09 L195.00 137.15 L195.50 137.20 L196.00 137.25 L196.50 137.31 L197.00 137.37 L197.50 137.43 L198.00 137.49 L198.50 137.54 L199.00 137.60 L199.50 137.67 L200.00 137.73 L200.50 137.79 L201.00 137.85 L201.50 137.92 L202.00 137.98 L202.50 138.05 L203.00 138.11 L203.50 138.18 L204.00 138.25 L204.50 138.32 L205.00 138.39 L205.50 138.46 L206.00 138.54 L206.50 138.61 L207.00 138.68 L207.50 138.76 L208.00 138.84 L208.50 138.92 L209.00 139.00 L209.50 139.08 L210.00 139.16 L210.50 139.24 L211.00 139.33 L211.50 139.42 L212.00 139.50 L212.50 139.59 L213.00 139.68 L213.50 139.78 L214.00 139.87 L214.50 139.96 L215.00 140.06 L215.50 140.16 L216.00 140.26 L216.50 140.36 L217.00 140.47 L217.50 140.58 L218.00 140.69 L218.50 140.80 L219.00 140.92 L219.50 141.04 L220.00 141.16 L220.50 141.28 L221.00 141.40 L221.50 141.53 L222.00 141.65 L222.50 141.78 L223.00 141.91 L223.50 142.04 L224.00 142.17 L224.50 142.30 L225.00 142.43 L225.50 142.57 L226.00 142.70 L226.50 142.83 L227.00 142.97 L227.50 143.10 L228.00 143.23 L228.50 143.37 L229.00 143.50 L229.50 143.63 L230.00 143.77 L230.50 143.90 L231.00 144.03 L231.50 144.16 L232.00 144.28 L232.50 144.41 L233.00 144.54 L233.50 144.66 L234.00 144.78 L234.50 144.90 L235.00 145.02 L235.50 145.14 L236.00 145.26 L236.50 145.38 L237.00 145.50 L237.50 145.62 L238.00 145.74 L238.50 145.86 L239.00 145.98 L239.50 146.10 L240.00 146.22 L240.50 146.34 L241.00 146.46 L241.50 146.58 L242.00 146.70 L242.50 146.82 L243.00 146.94 L243.50 147.05 L244.00 147.17 L244.50 147.29 L245.00 147.40 L245.50 147.52 L246.00 147.63 L246.50 147.74 L247.00 147.85 L247.50 147.96 L248.00 148.07 L248.50 148.18 L249.00 148.29 L249.50 148.39 L250.00 148.50 L250.50 148.60 L251.00 148.70 L251.50 148.80 L252.00 148.90 L252.50 148.99 L253.00 149.08 L253.50 149.18 L254.00 149.26 L254.50 149.35 L255.00 149.44 L255.50 149.52 L256.00 149.61 L256.50 149.69 L257.00 149.76 L257.50 149.84 L258.00 149.91 L258.50 149.98 L259.00 150.05 L259.50 150.11 L260.00 150.17 L260.50 150.23 L261.00 150.28 L261.50 150.33 L262.00 150.37 L262.50 150.41 L263.00 150.44 L263.50 150.46 L264.00 150.48 L264.50 150.50 L265.00 150.51 L265.50 150.51 L266.00 150.51 L266.50 150.49 L267.00 150.48 L267.50 150.46 L268.00 150.44 L268.50 150.41 L269.00 150.38 L269.50 150.35 L270.00 150.32 L270.50 150.28 L271.00 150.24 L271.50 150.19 L272.00 150.15 L272.50 150.10 L273.00 150.05 L273.50 149.99 L274.00 149.94 L274.50 149.88 L275.00 149.82 L275.50 149.75 L276.00 149.69 L276.50 149.62 L277.00 149.55 L277.50 149.48 L278.00 149.41 L278.50 149.34 L279.00 149.26 L279.50 149.19 L280.00 149.11 L280.50 149.03 L281.00 148.95 L281.50 148.87 L282.00 148.78 L282.50 148.70 L283.00 148.62 L283.50 148.53 L284.00 148.44 L284.50 148.35 L285.00 148.25 L285.50 148.15 L286.00 148.04 L286.50 147.94 L287.00 147.83 L287.50 147.72 L288.00 147.60 L288.50 147.49 L289.00 147.37 L289.50 147.25 L290.00 147.13 L290.50 147.00 L291.00 146.88 L291.50 146.76 L292.00 146.63 L292.50 146.51 L293.00 146.39 L293.50 146.26 L294.00 146.14 L294.50 146.02 L295.00 145.90 L295.50 145.78 L296.00 145.66 L296.50 145.54 L297.00 145.43 L297.50 145.32 L298.00 145.21 L298.50 145.10 L299.00 145.00 L299.50 144.90 L300.00 144.80 L300.50 144.70 L301.00 144.60 L301.50 144.49 L302.00 144.38 L302.50 144.27 L303.00 144.18 L303.50 144.09 L304.00 144.01 L304.50 143.95 L305.00 143.90 L305.50 143.88 L306.00 143.88 L306.50 143.91 L307.00 143.97 L307.50 144.05 L308.00 144.16 L308.50 144.27 L309.00 144.39 L309.50 144.53 L310.00 144.67 L310.50 144.82 L311.00 144.98 L311.50 145.15 L312.00 145.33 L312.50 145.51 L313.00 145.70 L313.50 145.89 L314.00 146.09 L314.50 146.29 L315.00 146.49 L315.50 146.70 L316.00 146.91 L316.50 147.12 L317.00 147.34 L317.50 147.55 L318.00 147.76 L318.50 147.97 L319.00 148.18 L319.50 148.41 L320.00 148.64 L320.50 148.88 L321.00 149.13 L321.50 149.39 L322.00 149.65 L322.50 149.92 L323.00 150.19 L323.50 150.46 L324.00 150.73 L324.50 151.00 L325.00 151.27 L325.50 151.53 L326.00 151.79 L326.50 152.04 L327.00 152.28 L327.50 152.51 L328.00 152.73 L328.50 152.94 L329.00 153.14 L329.50 153.33 L330.00 153.51 L330.50 153.70 L331.00 153.88 L331.50 154.06 L332.00 154.23 L332.50 154.40 L333.00 154.56 L333.50 154.71 L334.00 154.86 L334.50 155.00 L335.00 155.13 L335.50 155.25 L336.00 155.36 L336.50 155.47 L337.00 155.56 L337.50 155.64 L338.00 155.70 L338.50 155.76 L339.00 155.80 L339.50 155.83 L340.00 155.84 L340.50 155.84 L341.00 155.82 L341.50 155.79 L342.00 155.75 L342.50 155.70 L343.00 155.64 L343.50 155.57 L344.00 155.50 L344.50 155.42 L345.00 155.33 L345.50 155.24 L346.00 155.14 L346.50 155.04 L347.00 154.94 L347.50 154.84 L348.00 154.74 L348.50 154.64 L349.00 154.54 L349.50 154.44 L350.00 154.33 L350.50 154.22 L351.00 154.09 L351.50 153.96 L352.00 153.82 L352.50 153.68 L353.00 153.54 L353.50 153.39 L354.00 153.24 L354.50 153.09 L355.00 152.95 L355.50 152.80 L356.00 152.66 L356.50 152.52 L357.00 152.39 L357.50 152.27 L358.00 152.15 L358.50 152.03 L359.00 151.89 L359.50 151.75 L360.00 151.61 L360.50 151.46 L361.00 151.31 L361.50 151.16 L362.00 151.01 L362.50 150.87 L363.00 150.73 L363.50 150.60 L364.00 150.49 L364.50 150.38 L365.00 150.30 L365.50 150.23 L366.00 150.17 L366.50 150.14 L367.00 150.14 L367.50 150.15 L368.00 150.20 L368.50 150.28 L369.00 150.38 L369.50 150.51 L370.00 150.67 L370.50 150.86 L371.00 151.06 L371.50 151.28 L372.00 151.51 L372.50 151.76 L373.00 152.02 L373.50 152.28 L374.00 152.55 L374.50 152.83 L375.00 153.10 L375.50 153.37 L376.00 153.64 L376.50 153.90 L377.00 154.14 L377.50 154.38 L378.00 154.60 L378.50 154.81 L379.00 155.03 L379.50 155.23 L380.00 155.44 L380.50 155.63 L381.00 155.81 L381.50 155.98 L382.00 156.13 L382.50 156.28 L383.00 156.43 L383.50 156.60 L384.00 156.76 L384.50 156.93 L385.00 157.10 L385.50 157.27 L386.00 157.44 L386.50 157.60 L387.00 157.76 L387.50 157.91 L388.00 158.04 L388.50 158.17 L389.00 158.28 L389.50 158.38 L390.00 158.47 L390.50 158.53 L391.00 158.58 L391.50 158.60 L392.00 158.60 L392.50 158.57 L393.00 158.50 L393.50 158.40 L394.00 158.27 L394.50 158.11 L395.00 157.94 L395.50 157.75 L396.00 157.54 L396.50 157.33 L397.00 157.11 L397.50 156.90 L398.00 156.68 L398.50 156.48 L399.00 156.28 L399.50 156.11 L400.00 155.95 L400.50 155.82 L401.00 155.71 L401.50 155.64 L402.00 155.60 L402.50 155.60 L403.00 155.63 L403.50 155.67 L404.00 155.73 L404.50 155.80 L405.00 155.89 L405.50 155.99 L406.00 156.11 L406.50 156.23 L407.00 156.37 L407.50 156.52 L408.00 156.67 L408.50 156.83 L409.00 156.99 L409.50 157.16 L410.00 157.33 L410.50 157.50 L411.00 157.66 L411.50 157.83 L412.00 158.00 L412.50 158.16 L413.00 158.31 L413.50 158.46 L414.00 158.60 L414.50 158.74 L415.00 158.89 L415.50 159.04 L416.00 159.21 L416.50 159.37 L417.00 159.54 L417.50 159.72 L418.00 159.89 L418.50 160.07 L419.00 160.24 L419.50 160.42 L420.00 160.59 L420.50 160.75 L421.00 160.92 L421.50 161.07 L422.00 161.22 L422.50 161.36 L423.00 161.49 L423.50 161.61 L424.00 161.72 L424.50 161.82 L425.00 161.90 L425.50 161.97 L426.00 162.02 L426.50 162.03 L427.00 162.00 L427.50 161.93 L428.00 161.84 L428.50 161.73 L429.00 161.60 L429.50 161.46 L430.00 161.31 L430.50 161.16 L431.00 161.02 L431.50 160.89 L432.00 160.77 L432.50 160.68 L433.00 160.61 L433.50 160.58 L434.00 160.59 L434.50 160.63 L435.00 160.69 L435.50 160.77 L436.00 160.85 L436.50 160.95 L437.00 161.06 L437.50 161.17 L438.00 161.30 L438.50 161.43 L439.00 161.57 L439.50 161.71 L440.00 161.86 L440.50 162.02 L441.00 162.17 L441.50 162.33 L442.00 162.48 L442.50 162.64 L443.00 162.79 L443.50 162.95 L444.00 163.09 L444.50 163.24 L445.00 163.38 L445.50 163.51 L446.00 163.64 L446.50 163.76 L447.00 163.86 L447.50 163.96 L448.00 164.05 L448.50 164.13 L449.00 164.21 L449.50 164.28 L450.00 164.34 L450.50 164.40 L451.00 164.46 L451.50 164.51 L452.00 164.56 L452.50 164.61 L453.00 164.65 L453.50 164.69 L454.00 164.73 L454.50 164.77 L455.00 164.81 L455.50 164.85 L456.00 164.88 L456.50 164.92 L457.00 164.96 L457.50 165.00 L458.00 165.05 L458.50 165.09 L459.00 165.14 L459.50 165.19 L460.00 165.25 L460.50 165.31 L461.00 165.37 L461.50 165.44 L462.00 165.51 L462.50 165.59 L463.00 165.66 L463.50 165.74 L464.00 165.82 L464.50 165.89 L465.00 165.98 L465.50 166.06 L466.00 166.14 L466.50 166.22 L467.00 166.31 L467.50 166.40 L468.00 166.48 L468.50 166.57 L469.00 166.66 L469.50 166.74 L470.00 166.83 L470.50 166.92 L471.00 167.01 L471.50 167.10 L472.00 167.18 L472.50 167.27 L473.00 167.36 L473.50 167.45 L474.00 167.53 L474.50 167.62 L475.00 167.70 L475.50 167.79 L476.00 167.87 L476.50 167.95 L477.00 168.03 L477.50 168.11 L478.00 168.18 L478.50 168.26 L479.00 168.34 L479.50 168.41 L480.00 168.49 L480.50 168.56 L481.00 168.63 L481.50 168.71 L482.00 168.78 L482.50 168.85 L483.00 168.92 L483.50 169.00 L484.00 169.07 L484.50 169.14 L485.00 169.21 L485.50 169.28 L486.00 169.35 L486.50 169.42 L487.00 169.49 L487.50 169.56 L488.00 169.63 L488.50 169.70 L489.00 169.77 L489.50 169.84 L490.00 169.91 L490.50 169.98 L491.00 170.05 L491.50 170.12 L492.00 170.19 L492.50 170.25 L493.00 170.32 L493.50 170.39 L494.00 170.46 L494.50 170.53 L495.00 170.60 L495.50 170.67 L496.00 170.74 L496.50 170.81 L497.00 170.88 L497.50 170.95 L498.00 171.02 L498.50 171.09 L499.00 171.16 L499.50 171.23 L500.00 171.30 L500.50 171.37 L501.00 171.44 L501.50 171.52 L502.00 171.59 L502.50 171.66 L503.00 171.74 L503.50 171.81 L504.00 171.89 L504.50 171.96 L505.00 172.04 L505.50 172.11 L506.00 172.19 L506.50 172.27 L507.00 172.34 L507.50 172.42 L508.00 172.50 L508.50 172.58 L509.00 172.65 L509.50 172.73 L510.00 172.81 L510.50 172.88 L511.00 172.96 L511.50 173.04 L512.00 173.11 L512.50 173.19 L513.00 173.27 L513.50 173.34 L514.00 173.42 L514.50 173.49 L515.00 173.57 L515.50 173.64 L516.00 173.72 L516.50 173.79 L517.00 173.86 L517.50 173.93 L518.00 174.01 L518.50 174.08 L519.00 174.15 L519.50 174.21 L520.00 174.28 L520.50 174.35 L521.00 174.42 L521.50 174.48 L522.00 174.55 L522.50 174.61 L523.00 174.67 L523.50 174.73 L524.00 174.80 L524.50 174.85 L525.00 174.91 L525.50 174.97 L526.00 175.02 L526.50 175.08 L527.00 175.13 L527.50 175.18 L528.00 175.23 L528.50 175.28 L529.00 175.33 L529.50 175.38 L530.00 175.43 L530.50 175.47 L531.00 175.51 L531.50 175.56 L532.00 175.60 L532.50 175.64 L533.00 175.68 L533.50 175.72 L534.00 175.76 L534.50 175.80 L535.00 175.84 L535.50 175.88 L536.00 175.91 L536.50 175.95 L537.00 175.98 L537.50 176.02 L538.00 176.05 L538.50 176.09 L539.00 176.12 L539.50 176.15 L540.00 176.19 L540.50 176.22 L541.00 176.25 L541.50 176.28 L542.00 176.31 L542.50 176.35 L543.00 176.38 L543.50 176.41 L544.00 176.44 L544.50 176.47 L545.00 176.50 L545.50 176.53 L546.00 176.56 L546.50 176.59 L547.00 176.62 L547.50 176.65 L548.00 176.68 L548.50 176.72 L549.00 176.75 L549.50 176.78 L550.00 176.81 L550.50 176.84 L551.00 176.87 L551.50 176.91 L552.00 176.94 L552.50 176.97 L553.00 177.01 L553.50 177.04 L554.00 177.08 L554.50 177.11 L555.00 177.15 L555.50 177.19 L556.00 177.22 L556.50 177.26 L557.00 177.30 L557.50 177.34 L558.00 177.38 L558.50 177.42 L559.00 177.47 L559.50 177.51 L560.00 177.55 L560.50 177.60 L561.00 177.64 L561.50 177.69 L562.00 177.73 L562.50 177.78 L563.00 177.82 L563.50 177.87 L564.00 177.91 L564.50 177.95 L565.00 178.00 L565.50 178.04 L566.00 178.08 L566.50 178.13 L567.00 178.17 L567.50 178.21 L568.00 178.25 L568.50 178.28 L569.00 178.32 L569.50 178.36 L570.00 178.39 L570.50 178.43 L571.00 178.46 L571.50 178.49 L572.00 178.52 L572.50 178.54 L573.00 178.57 L573.50 178.59 L574.00 178.61 L574.50 178.63 L575.00 178.65 L575.50 178.67 L576.00 178.69 L576.50 178.71 L577.00 178.72 L577.50 178.74 L578.00 178.76 L578.50 178.77 L579.00 178.79 L579.50 178.80 L580.00 178.81 L580.50 178.83 L581.00 178.84 L581.50 178.85 L582.00 178.86 L582.50 178.87 L583.00 178.88 L583.50 178.89 L584.00 178.90 L584.50 178.91 L585.00 178.92 L585.50 178.93 L586.00 178.94 L586.50 178.95 L587.00 178.96 L587.50 178.96 L588.00 178.97 L588.50 178.98 L589.00 178.99 L589.50 179.00 L590.00 179.00 L590.50 179.01 L591.00 179.02 L591.50 179.03 L592.00 179.03 L592.50 179.04 L593.00 179.05 L593.50 179.06 L594.00 179.06 L594.50 179.07 L595.00 179.08 L595.50 179.09 L596.00 179.10 L596.50 179.11 L597.00 179.11 L597.50 179.12 L598.00 179.13 L598.50 179.14 L599.00 179.15 L599.50 179.16 L600.00 179.17 L600.50 179.19 L601.00 179.20 L601.50 179.21 L602.00 179.22 L602.50 179.24 L603.00 179.25 L603.50 179.26 L604.00 179.28 L604.50 179.29 L605.00 179.31 L605.50 179.33 L606.00 179.34 L606.50 179.36 L607.00 179.38 L607.50 179.40 L608.00 179.42 L608.50 179.44 L609.00 179.47 L609.50 179.49 L610.00 179.52 L610.50 179.55 L611.00 179.58 L611.50 179.61 L612.00 179.64 L612.50 179.68 L613.00 179.71 L613.50 179.75 L614.00 179.78 L614.50 179.82 L615.00 179.86 L615.50 179.90 L616.00 179.94 L616.50 179.97 L617.00 180.01 L617.50 180.06 L618.00 180.10 L618.50 180.14 L619.00 180.18 L619.50 180.22 L620.00 180.26 L620.50 180.30 L621.00 180.34 L621.50 180.38 L622.00 180.42 L622.50 180.46 L623.00 180.50 L623.50 180.54 L624.00 180.58 L624.50 180.61 L625.00 180.65 L625.50 180.69 L626.00 180.72 L626.50 180.76 L627.00 180.79 L627.50 180.82 L628.00 180.85 L628.50 180.89 L629.00 180.92 L629.50 180.95 L630.00 180.98 L630.50 181.01 L631.00 181.05 L631.50 181.08 L632.00 181.11 L632.50 181.15 L633.00 181.18 L633.50 181.21 L634.00 181.25 L634.50 181.29 L635.00 181.32 L635.50 181.36 L636.00 181.40 L636.50 181.44 L637.00 181.48 L637.50 181.53 L638.00 181.57 L638.50 181.62 L639.00 181.67 L639.50 181.72 L640.00 181.77 L640.50 181.82 L641.00 181.88 L641.50 181.93 L642.00 181.99 L642.50 182.05 L643.00 182.11 L643.50 182.18 L644.00 182.24 L644.50 182.30 L645.00 182.37 L645.50 182.43 L646.00 182.50 L646.50 182.57 L647.00 182.64 L647.50 182.71 L648.00 182.78 L648.50 182.85 L649.00 182.93 L649.50 183.00 L650.00 183.08 L650.50 183.16 L651.00 183.24 L651.50 183.32 L652.00 183.40 L652.50 183.48 L653.00 183.56 L653.50 183.65 L654.00 183.74 L654.50 183.82 L655.00 183.91 L655.50 184.00 L656.00 184.10 L656.50 184.19 L657.00 184.29 L657.50 184.38 L658.00 184.48 L658.50 184.58 L659.00 184.68 L659.50 184.78 L660.00 184.88 L660.50 184.98 L661.00 185.09 L661.50 185.19 L662.00 185.30 L662.50 185.41 L663.00 185.52 L663.50 185.63 L664.00 185.74 L664.50 185.85 L665.00 185.97 L665.50 186.09 L666.00 186.21 L666.50 186.33 L667.00 186.45 L667.50 186.58 L668.00 186.71 L668.50 186.84 L669.00 186.97 L669.50 187.11 L670.00 187.25 L670.50 187.39 L671.00 187.53 L671.50 187.68 L672.00 187.83 L672.50 187.98 L673.00 188.14 L673.50 188.30 L674.00 188.47 L674.50 188.64 L675.00 188.81 L675.50 189.00 L676.00 189.18 L676.50 189.38 L677.00 189.57 L677.50 189.78 L678.00 189.98 L678.50 190.19 L679.00 190.40 L679.50 190.62 L680.00 190.83 L680.50 191.05 L681.00 191.28 L681.50 191.50 L682.00 191.72 L682.50 191.95 L683.00 192.17 L683.50 192.40 L684.00 192.62 L684.50 192.85 L685.00 193.07 L685.50 193.29 L686.00 193.51 L686.50 193.73 L687.00 193.95 L687.50 194.16 L688.00 194.38 L688.50 194.59 L689.00 194.80 L689.50 195.01 L690.00 195.22 L690.50 195.43 L691.00 195.64 L691.50 195.85 L692.00 196.07 L692.50 196.28 L693.00 196.50 L693.50 196.71 L694.00 196.94 L694.50 197.16 L695.00 197.39 L695.50 197.62 L696.00 197.85 L696.50 198.09 L697.00 198.33 L697.50 198.58 L698.00 198.83 L698.50 199.09 L699.00 199.35 L699.50 199.62 L700.00 199.90 L700.50 200.18 L701.00 200.47 L701.50 200.75 L702.00 201.04 L702.50 201.34 L703.00 201.63 L703.50 201.93 L704.00 202.24 L704.50 202.54 L705.00 202.85 L705.50 203.17 L706.00 203.49 L706.50 203.81 L707.00 204.14 L707.50 204.47 L708.00 204.80 L708.50 205.14 L709.00 205.48 L709.50 205.83 L710.00 206.18 L710.50 206.54 L711.00 206.90 L711.50 207.27 L712.00 207.64 L712.50 208.02 L713.00 208.40 L713.50 208.79 L714.00 209.18 L714.50 209.58 L715.00 209.99 L715.50 210.41 L716.00 210.84 L716.50 211.27 L717.00 211.71 L717.50 212.16 L718.00 212.61 L718.50 213.07 L719.00 213.54 L719.50 214.00 L720.00 214.48 L720.50 214.95 L721.00 215.43 L721.50 215.90 L722.00 216.38 L722.50 216.86 L723.00 217.34 L723.50 217.82 L724.00 218.29 L724.50 218.77 L725.00 219.24 L725.50 219.71 L726.00 220.17 L726.50 220.63 L727.00 221.08 L727.50 221.53 L728.00 221.98 L728.50 222.41 L729.00 222.85 L729.50 223.27 L730.00 223.70 L730.50 224.12 L731.00 224.54 L731.50 224.95 L732.00 225.36 L732.50 225.77 L733.00 226.18 L733.50 226.58 L734.00 226.99 L734.50 227.39 L735.00 227.80 L735.50 228.20 L736.00 228.60 L736.50 229.01 L737.00 229.41 L737.50 229.82 L738.00 230.23 L738.50 230.64 L739.00 231.05 L739.50 231.47 L740.00 231.89 L740.50 232.31 L741.00 232.73 L741.50 233.16 L742.00 233.60 L742.50 234.04 L743.00 234.49 L743.50 234.94 L744.00 235.39 L744.50 235.86 L745.00 236.33 L745.50 236.81 L746.00 237.29 L746.50 237.79 L747.00 238.29 L747.50 238.80 L748.00 239.32 L748.50 239.84 L749.00 240.38 L749.50 240.92 L750.00 241.47 L750.50 242.03 L751.00 242.60 L751.50 243.17 L752.00 243.75 L752.50 244.33 L753.00 244.92 L753.50 245.52 L754.00 246.12 L754.50 246.72 L755.00 247.33 L755.50 247.94 L756.00 248.55 L756.50 249.17 L757.00 249.79 L757.50 250.41 L758.00 251.04 L758.50 251.66 L759.00 252.29 L759.50 252.92 L760.00 253.55 L760.50 254.18 L761.00 254.81 L761.50 255.43 L762.00 256.06 L762.50 256.69 L763.00 257.31 L763.50 257.93 L764.00 258.55 L764.50 259.17 L765.00 259.79 L765.50 260.40 L766.00 261.00 L766.50 261.61 L767.00 262.21 L767.50 262.80 L768.00 263.39 L768.50 263.98 L769.00 264.57 L769.50 265.17 L770.00 265.76 L770.50 266.35 L771.00 266.94 L771.50 267.53 L772.00 268.12 L772.50 268.71 L773.00 269.30 L773.50 269.90 L774.00 270.49 L774.50 271.08 L775.00 271.67 L775.50 272.26 L776.00 272.84 L776.50 273.43 L777.00 274.02 L777.50 274.61 L778.00 275.20 L778.50 275.78 L779.00 276.37 L779.50 276.96 L780.00 277.54 L780.50 278.13 L781.00 278.71 L781.50 279.30 L782.00 279.88 L782.50 280.46 L783.00 281.05 L783.50 281.63 L784.00 282.21 L784.50 282.79 L785.00 283.37 L785.50 283.95 L786.00 284.53 L786.50 285.10 L787.00 285.68 L787.50 286.26 L788.00 286.83 L788.50 287.40 L789.00 287.98 L789.50 288.55 L790.00 289.12 L790.50 289.69 L791.00 290.26 L791.50 290.83 L792.00 291.39 L792.50 291.96 L793.00 292.52 L793.50 293.08 L794.00 293.64 L794.50 294.19 L795.00 294.74 L795.50 295.30 L796.00 295.85 L796.50 296.40 L797.00 296.95 L797.50 297.49 L798.00 298.04 L798.50 298.58 L799.00 299.13 L799.50 299.67 L800.00 300.21 L800.50 300.75 L801.00 301.30 L801.50 301.84 L802.00 302.38 L802.50 302.92 L803.00 303.46 L803.50 304.00 L804.00 304.54 L804.50 305.08 L805.00 305.62 L805.50 306.16 L806.00 306.70 L806.50 307.24 L807.00 307.78 L807.50 308.32 L808.00 308.86 L808.50 309.41 L809.00 309.95 L809.50 310.50" stroke-dasharray="12 4.75" stroke-dashoffset="8.08"/>
<path d="M103.50 134.30 L104.00 134.31 L104.50 134.31 L105.00 134.32 L105.50 134.32 L106.00 134.33 L106.50 134.33 L107.00 134.34 L107.50 134.34 L108.00 134.35 L108.50 134.35 L109.00 134.36 L109.50 134.36 L110.00 134.37 L110.50 134.37 L111.00 134.37 L111.50 134.38 L112.00 134.38 L112.50 134.39 L113.00 134.39 L113.50 134.40 L114.00 134.40 L114.50 134.40 L115.00 134.41 L115.50 134.41 L116.00 134.42 L116.50 134.42 L117.00 134.42 L117.50 134.43 L118.00 134.43 L118.50 134.44 L119.00 134.44 L119.50 134.45 L120.00 134.45 L120.50 134.45 L121.00 134.46 L121.50 134.46 L122.00 134.47 L122.50 134.47 L123.00 134.47 L123.50 134.48 L124.00 134.48 L124.50 134.49 L125.00 134.49 L125.50 134.50 L126.00 134.50 L126.50 134.50 L127.00 134.51 L127.50 134.51 L128.00 134.52 L128.50 134.52 L129.00 134.53 L129.50 134.53 L130.00 134.54 L130.50 134.54 L131.00 134.55 L131.50 134.55 L132.00 134.56 L132.50 134.56 L133.00 134.57 L133.50 134.57 L134.00 134.58 L134.50 134.59 L135.00 134.59 L135.50 134.60 L136.00 134.60 L136.50 134.61 L137.00 134.62 L137.50 134.62 L138.00 134.63 L138.50 134.64 L139.00 134.64 L139.50 134.65 L140.00 134.66 L140.50 134.67 L141.00 134.67 L141.50 134.68 L142.00 134.69 L142.50 134.70 L143.00 134.70 L143.50 134.71 L144.00 134.72 L144.50 134.73 L145.00 134.74 L145.50 134.75 L146.00 134.76 L146.50 134.77 L147.00 134.78 L147.50 134.79 L148.00 134.80 L148.50 134.81 L149.00 134.82 L149.50 134.83 L150.00 134.84 L150.50 134.85 L151.00 134.86 L151.50 134.87 L152.00 134.88 L152.50 134.90 L153.00 134.91 L153.50 134.92 L154.00 134.93 L154.50 134.94 L155.00 134.96 L155.50 134.97 L156.00 134.98 L156.50 135.00 L157.00 135.01 L157.50 135.03 L158.00 135.04 L158.50 135.05 L159.00 135.07 L159.50 135.08 L160.00 135.10 L160.50 135.12 L161.00 135.13 L161.50 135.15 L162.00 135.16 L162.50 135.18 L163.00 135.20 L163.50 135.22 L164.00 135.23 L164.50 135.25 L165.00 135.27 L165.50 135.29 L166.00 135.31 L166.50 135.32 L167.00 135.34 L167.50 135.36 L168.00 135.38 L168.50 135.40 L169.00 135.42 L169.50 135.44 L170.00 135.47 L170.50 135.49 L171.00 135.51 L171.50 135.53 L172.00 135.55 L172.50 135.58 L173.00 135.60 L173.50 135.62 L174.00 135.65 L174.50 135.67 L175.00 135.69 L175.50 135.72 L176.00 135.74 L176.50 135.77 L177.00 135.79 L177.50 135.82 L178.00 135.85 L178.50 135.87 L179.00 135.90 L179.50 135.93 L180.00 135.96 L180.50 135.99 L181.00 136.02 L181.50 136.05 L182.00 136.08 L182.50 136.11 L183.00 136.14 L183.50 136.17 L184.00 136.21 L184.50 136.24 L185.00 136.27 L185.50 136.31 L186.00 136.34 L186.50 136.38 L187.00 136.42 L187.50 136.46 L188.00 136.50 L188.50 136.54 L189.00 136.58 L189.50 136.62 L190.00 136.66 L190.50 136.71 L191.00 136.75 L191.50 136.80 L192.00 136.84 L192.50 136.89 L193.00 136.94 L193.50 136.99 L194.00 137.04 L194.50 137.09 L195.00 137.15 L195.50 137.20 L196.00 137.25 L196.50 137.31 L197.00 137.37 L197.50 137.43 L198.00 137.49 L198.50 137.54 L199.00 137.60 L199.50 137.67 L200.00 137.73 L200.50 137.79 L201.00 137.85 L201.50 137.92 L202.00 137.98 L202.50 138.05 L203.00 138.11 L203.50 138.18 L204.00 138.25 L204.50 138.32 L205.00 138.39 L205.50 138.46 L206.00 138.54 L206.50 138.61 L207.00 138.68 L207.50 138.76 L208.00 138.84 L208.50 138.92 L209.00 139.00 L209.50 139.08 L210.00 139.16 L210.50 139.24 L211.00 139.33 L211.50 139.42 L212.00 139.50 L212.50 139.59 L213.00 139.68 L213.50 139.78 L214.00 139.87 L214.50 139.96 L215.00 140.06 L215.50 140.16 L216.00 140.26 L216.50 140.36 L217.00 140.47 L217.50 140.58 L218.00 140.69 L218.50 140.80 L219.00 140.92 L219.50 141.04 L220.00 141.16 L220.50 141.28 L221.00 141.40 L221.50 141.53 L222.00 141.65 L222.50 141.78 L223.00 141.91 L223.50 142.04 L224.00 142.17 L224.50 142.30 L225.00 142.43 L225.50 142.57 L226.00 142.70 L226.50 142.83 L227.00 142.97 L227.50 143.10 L228.00 143.23 L228.50 143.37 L229.00 143.50 L229.50 143.63 L230.00 143.77 L230.50 143.90 L231.00 144.03 L231.50 144.16 L232.00 144.28 L232.50 144.41 L233.00 144.54 L233.50 144.66 L234.00 144.78 L234.50 144.90 L235.00 145.02 L235.50 145.14 L236.00 145.26 L236.50 145.38 L237.00 145.50 L237.50 145.62 L238.00 145.74 L238.50 145.86 L239.00 145.98 L239.50 146.10 L240.00 146.22 L240.50 146.34 L241.00 146.46 L241.50 146.58 L242.00 146.70 L242.50 146.82 L243.00 146.94 L243.50 147.05 L244.00 147.17 L244.50 147.29 L245.00 147.40 L245.50 147.52 L246.00 147.63 L246.50 147.74 L247.00 147.85 L247.50 147.96 L248.00 148.07 L248.50 148.18 L249.00 148.29 L249.50 148.39 L250.00 148.50 L250.50 148.60 L251.00 148.70 L251.50 148.80 L252.00 148.90 L252.50 148.99 L253.00 149.08 L253.50 149.18 L254.00 149.26 L254.50 149.35 L255.00 149.44 L255.50 149.52 L256.00 149.61 L256.50 149.69 L257.00 149.76 L257.50 149.84 L258.00 149.91 L258.50 149.98 L259.00 150.05 L259.50 150.11 L260.00 150.17 L260.50 150.23 L261.00 150.28 L261.50 150.33 L262.00 150.37 L262.50 150.41 L263.00 150.44 L263.50 150.46 L264.00 150.48 L264.50 150.50 L265.00 150.51 L265.50 150.51 L266.00 150.51 L266.50 150.49 L267.00 150.48 L267.50 150.46 L268.00 150.44 L268.50 150.41 L269.00 150.38 L269.50 150.35 L270.00 150.32 L270.50 150.28 L271.00 150.24 L271.50 150.19 L272.00 150.15 L272.50 150.10 L273.00 150.05 L273.50 149.99 L274.00 149.94 L274.50 149.88 L275.00 149.82 L275.50 149.75 L276.00 149.69 L276.50 149.62 L277.00 149.55 L277.50 149.48 L278.00 149.41 L278.50 149.34 L279.00 149.26 L279.50 149.19 L280.00 149.11 L280.50 149.03 L281.00 148.95 L281.50 148.87 L282.00 148.78 L282.50 148.70 L283.00 148.62 L283.50 148.53 L284.00 148.44 L284.50 148.35 L285.00 148.25 L285.50 148.15 L286.00 148.04 L286.50 147.94 L287.00 147.83 L287.50 147.72 L288.00 147.60 L288.50 147.49 L289.00 147.37 L289.50 147.25 L290.00 147.13 L290.50 147.00 L291.00 146.88 L291.50 146.76 L292.00 146.63 L292.50 146.51 L293.00 146.39 L293.50 146.26 L294.00 146.14 L294.50 146.02 L295.00 145.90 L295.50 145.78 L296.00 145.66 L296.50 145.54 L297.00 145.43 L297.50 145.32 L298.00 145.21 L298.50 145.10 L299.00 145.00 L299.50 144.90 L300.00 144.80 L300.50 144.70 L301.00 144.60 L301.50 144.49 L302.00 144.38 L302.50 144.27 L303.00 144.18 L303.50 144.09 L304.00 144.01 L304.50 143.95 L305.00 143.90 L305.50 143.88 L306.00 143.88 L306.50 143.91 L307.00 143.97 L307.50 144.05 L308.00 144.16 L308.50 144.27 L309.00 144.39 L309.50 144.53 L310.00 144.67 L310.50 144.82 L311.00 144.98 L311.50 145.15 L312.00 145.33 L312.50 145.51 L313.00 145.70 L313.50 145.89 L314.00 146.09 L314.50 146.29 L315.00 146.49 L315.50 146.70 L316.00 146.91 L316.50 147.12 L317.00 147.34 L317.50 147.55 L318.00 147.76 L318.50 147.97 L319.00 148.18 L319.50 148.41 L320.00 148.64 L320.50 148.88 L321.00 149.13 L321.50 149.39 L322.00 149.65 L322.50 149.92 L323.00 150.19 L323.50 150.46 L324.00 150.73 L324.50 151.00 L325.00 151.27 L325.50 151.53 L326.00 151.79 L326.50 152.04 L327.00 152.28 L327.50 152.51 L328.00 152.73 L328.50 152.94 L329.00 153.14 L329.50 153.33 L330.00 153.51 L330.50 153.70 L331.00 153.88 L331.50 154.06 L332.00 154.23 L332.50 154.40 L333.00 154.56 L333.50 154.71 L334.00 154.86 L334.50 155.00 L335.00 155.13 L335.50 155.25 L336.00 155.36 L336.50 155.47 L337.00 155.56 L337.50 155.64 L338.00 155.70 L338.50 155.76 L339.00 155.80 L339.50 155.83 L340.00 155.84 L340.50 155.84 L341.00 155.82 L341.50 155.79 L342.00 155.75 L342.50 155.70 L343.00 155.64 L343.50 155.57 L344.00 155.50 L344.50 155.42 L345.00 155.33 L345.50 155.24 L346.00 155.14 L346.50 155.04 L347.00 154.94 L347.50 154.84 L348.00 154.74 L348.50 154.64 L349.00 154.54 L349.50 154.44 L350.00 154.33 L350.50 154.22 L351.00 154.09 L351.50 153.96 L352.00 153.82 L352.50 153.68 L353.00 153.54 L353.50 153.39 L354.00 153.24 L354.50 153.09 L355.00 152.95 L355.50 152.80 L356.00 152.66 L356.50 152.52 L357.00 152.39 L357.50 152.27 L358.00 152.15 L358.50 152.03 L359.00 151.89 L359.50 151.75 L360.00 151.61 L360.50 151.46 L361.00 151.31 L361.50 151.16 L362.00 151.01 L362.50 150.87 L363.00 150.73 L363.50 150.60 L364.00 150.49 L364.50 150.38 L365.00 150.30 L365.50 150.23 L366.00 150.17 L366.50 150.14 L367.00 150.14 L367.50 150.15 L368.00 150.20 L368.50 150.27 L369.00 150.37 L369.50 150.49 L370.00 150.63 L370.50 150.80 L371.00 150.98 L371.50 151.18 L372.00 151.39 L372.50 151.62 L373.00 151.87 L373.50 152.12 L374.00 152.38 L374.50 152.65 L375.00 152.92 L375.50 153.20 L376.00 153.48 L376.50 153.76 L377.00 154.04 L377.50 154.32 L378.00 154.60 L378.50 154.91 L379.00 155.29 L379.50 155.72 L380.00 156.18 L380.50 156.64 L381.00 157.09 L381.50 157.50 L382.00 157.87 L382.50 158.23 L383.00 158.60 L383.50 158.97 L384.00 159.35 L384.50 159.72 L385.00 160.08 L385.50 160.43 L386.00 160.77 L386.50 161.07 L387.00 161.35 L387.50 161.59 L388.00 161.79 L388.50 161.95 L389.00 162.06 L389.50 162.15 L390.00 162.21 L390.50 162.25 L391.00 162.28 L391.50 162.28 L392.00 162.27 L392.50 162.25 L393.00 162.21 L393.50 162.17 L394.00 162.12 L394.50 162.06 L395.00 162.00 L395.50 161.94 L396.00 161.87 L396.50 161.81 L397.00 161.75 L397.50 161.70 L398.00 161.65 L398.50 161.62 L399.00 161.59 L399.50 161.55 L400.00 161.49 L400.50 161.43 L401.00 161.35 L401.50 161.27 L402.00 161.19 L402.50 161.11 L403.00 161.04 L403.50 160.97 L404.00 160.92 L404.50 160.88 L405.00 160.87 L405.50 160.87 L406.00 160.90 L406.50 160.96 L407.00 161.05 L407.50 161.18 L408.00 161.33 L408.50 161.51 L409.00 161.71 L409.50 161.93 L410.00 162.17 L410.50 162.42 L411.00 162.68 L411.50 162.96 L412.00 163.24 L412.50 163.53 L413.00 163.83 L413.50 164.12 L414.00 164.42 L414.50 164.71 L415.00 165.00 L415.50 165.28 L416.00 165.55 L416.50 165.81 L417.00 166.06 L417.50 166.29 L418.00 166.52 L418.50 166.76 L419.00 167.00 L419.50 167.24 L420.00 167.48 L420.50 167.72 L421.00 167.95 L421.50 168.19 L422.00 168.42 L422.50 168.64 L423.00 168.86 L423.50 169.07 L424.00 169.28 L424.50 169.47 L425.00 169.66 L425.50 169.83 L426.00 169.99 L426.50 170.14 L427.00 170.28 L427.50 170.40 L428.00 170.49 L428.50 170.55 L429.00 170.57 L429.50 170.57 L430.00 170.55 L430.50 170.51 L431.00 170.45 L431.50 170.40 L432.00 170.34 L432.50 170.28 L433.00 170.23 L433.50 170.20 L434.00 170.19 L434.50 170.20 L435.00 170.24 L435.50 170.31 L436.00 170.43 L436.50 170.56 L437.00 170.72 L437.50 170.88 L438.00 171.06 L438.50 171.25 L439.00 171.46 L439.50 171.67 L440.00 171.89 L440.50 172.12 L441.00 172.35 L441.50 172.59 L442.00 172.83 L442.50 173.08 L443.00 173.32 L443.50 173.57 L444.00 173.82 L444.50 174.06 L445.00 174.30 L445.50 174.54 L446.00 174.77 L446.50 174.99 L447.00 175.21 L447.50 175.42 L448.00 175.62 L448.50 175.82 L449.00 176.01 L449.50 176.20 L450.00 176.39 L450.50 176.58 L451.00 176.77 L451.50 176.95 L452.00 177.13 L452.50 177.32 L453.00 177.50 L453.50 177.68 L454.00 177.86 L454.50 178.04 L455.00 178.22 L455.50 178.40 L456.00 178.57 L456.50 178.75 L457.00 178.93 L457.50 179.12 L458.00 179.30 L458.50 179.48 L459.00 179.67 L459.50 179.85 L460.00 180.04 L460.50 180.23 L461.00 180.42 L461.50 180.62 L462.00 180.81 L462.50 181.00 L463.00 181.20 L463.50 181.39 L464.00 181.59 L464.50 181.78 L465.00 181.98 L465.50 182.17 L466.00 182.37 L466.50 182.56 L467.00 182.76 L467.50 182.95 L468.00 183.15 L468.50 183.35 L469.00 183.55 L469.50 183.74 L470.00 183.94 L470.50 184.14 L471.00 184.34 L471.50 184.54 L472.00 184.75 L472.50 184.95 L473.00 185.15 L473.50 185.36 L474.00 185.57 L474.50 185.77 L475.00 185.98 L475.50 186.19 L476.00 186.40 L476.50 186.61 L477.00 186.83 L477.50 187.04 L478.00 187.26 L478.50 187.47 L479.00 187.69 L479.50 187.91 L480.00 188.13 L480.50 188.34 L481.00 188.56 L481.50 188.78 L482.00 189.00 L482.50 189.22 L483.00 189.44 L483.50 189.66 L484.00 189.88 L484.50 190.10 L485.00 190.32 L485.50 190.55 L486.00 190.77 L486.50 190.99 L487.00 191.22 L487.50 191.44 L488.00 191.67 L488.50 191.90 L489.00 192.13 L489.50 192.36 L490.00 192.59 L490.50 192.82 L491.00 193.05 L491.50 193.28 L492.00 193.52 L492.50 193.76 L493.00 193.99 L493.50 194.23 L494.00 194.47 L494.50 194.71 L495.00 194.96 L495.50 195.20 L496.00 195.45 L496.50 195.70 L497.00 195.94 L497.50 196.20 L498.00 196.45 L498.50 196.70 L499.00 196.96 L499.50 197.23 L500.00 197.50 L500.50 197.78 L501.00 198.07 L501.50 198.35 L502.00 198.65 L502.50 198.94 L503.00 199.24 L503.50 199.54 L504.00 199.85 L504.50 200.15 L505.00 200.46 L505.50 200.76 L506.00 201.07 L506.50 201.37 L507.00 201.68 L507.50 201.98 L508.00 202.28 L508.50 202.58 L509.00 202.87 L509.50 203.16 L510.00 203.45 L510.50 203.73 L511.00 204.01 L511.50 204.28 L512.00 204.54 L512.50 204.80 L513.00 205.06 L513.50 205.31 L514.00 205.55 L514.50 205.79 L515.00 206.03 L515.50 206.27 L516.00 206.50 L516.50 206.73 L517.00 206.96 L517.50 207.18 L518.00 207.41 L518.50 207.63 L519.00 207.85 L519.50 208.07 L520.00 208.28 L520.50 208.50 L521.00 208.72 L521.50 208.93 L522.00 209.15 L522.50 209.36 L523.00 209.58 L523.50 209.79 L524.00 210.01 L524.50 210.23 L525.00 210.45 L525.50 210.67 L526.00 210.89 L526.50 211.11 L527.00 211.34 L527.50 211.56 L528.00 211.79 L528.50 212.01 L529.00 212.24 L529.50 212.47 L530.00 212.70 L530.50 212.92 L531.00 213.15 L531.50 213.38 L532.00 213.61 L532.50 213.84 L533.00 214.06 L533.50 214.29 L534.00 214.52 L534.50 214.75 L535.00 214.97 L535.50 215.20 L536.00 215.42 L536.50 215.65 L537.00 215.87 L537.50 216.09 L538.00 216.31 L538.50 216.53 L539.00 216.75 L539.50 216.97 L540.00 217.19 L540.50 217.40 L541.00 217.62 L541.50 217.83 L542.00 218.04 L542.50 218.25 L543.00 218.46 L543.50 218.67 L544.00 218.88 L544.50 219.09 L545.00 219.30 L545.50 219.51 L546.00 219.72 L546.50 219.93 L547.00 220.13 L547.50 220.34 L548.00 220.54 L548.50 220.75 L549.00 220.95 L549.50 221.15 L550.00 221.35 L550.50 221.55 L551.00 221.74 L551.50 221.94 L552.00 222.13 L552.50 222.32 L553.00 222.51 L553.50 222.70 L554.00 222.89 L554.50 223.07 L555.00 223.25 L555.50 223.43 L556.00 223.61 L556.50 223.78 L557.00 223.96 L557.50 224.14 L558.00 224.31 L558.50 224.49 L559.00 224.67 L559.50 224.84 L560.00 225.02 L560.50 225.19 L561.00 225.37 L561.50 225.54 L562.00 225.71 L562.50 225.88 L563.00 226.05 L563.50 226.22 L564.00 226.39 L564.50 226.55 L565.00 226.72 L565.50 226.88 L566.00 227.04 L566.50 227.20 L567.00 227.35 L567.50 227.51 L568.00 227.66 L568.50 227.81 L569.00 227.96 L569.50 228.10 L570.00 228.24 L570.50 228.38 L571.00 228.52 L571.50 228.65 L572.00 228.78 L572.50 228.91 L573.00 229.03 L573.50 229.15 L574.00 229.27 L574.50 229.38 L575.00 229.49 L575.50 229.60 L576.00 229.70 L576.50 229.80 L577.00 229.90 L577.50 229.99 L578.00 230.08 L578.50 230.16 L579.00 230.25 L579.50 230.33 L580.00 230.41 L580.50 230.48 L581.00 230.56 L581.50 230.63 L582.00 230.70 L582.50 230.77 L583.00 230.83 L583.50 230.90 L584.00 230.96 L584.50 231.02 L585.00 231.08 L585.50 231.14 L586.00 231.20 L586.50 231.26 L587.00 231.31 L587.50 231.37 L588.00 231.42 L588.50 231.48 L589.00 231.53 L589.50 231.58 L590.00 231.64 L590.50 231.69 L591.00 231.74 L591.50 231.79 L592.00 231.83 L592.50 231.87 L593.00 231.91 L593.50 231.93 L594.00 231.96 L594.50 231.98 L595.00 231.99 L595.50 232.00 L596.00 232.00 L596.50 232.00 L597.00 231.99 L597.50 231.98 L598.00 231.96 L598.50 231.93 L599.00 231.90 L599.50 231.86 L600.00 231.81 L600.50 231.76 L601.00 231.70 L601.50 231.63 L602.00 231.55 L602.50 231.47 L603.00 231.39 L603.50 231.30 L604.00 231.21 L604.50 231.11 L605.00 231.02 L605.50 230.92 L606.00 230.81 L606.50 230.71 L607.00 230.60 L607.50 230.50 L608.00 230.40 L608.50 230.29 L609.00 230.19 L609.50 230.09 L610.00 229.99 L610.50 229.89 L611.00 229.78 L611.50 229.68 L612.00 229.58 L612.50 229.48 L613.00 229.38 L613.50 229.28 L614.00 229.17 L614.50 229.07 L615.00 228.96 L615.50 228.86 L616.00 228.75 L616.50 228.64 L617.00 228.53 L617.50 228.41 L618.00 228.30 L618.50 228.18 L619.00 228.06 L619.50 227.94 L620.00 227.81 L620.50 227.68 L621.00 227.55 L621.50 227.42 L622.00 227.28 L622.50 227.14 L623.00 227.00 L623.50 226.85 L624.00 226.69 L624.50 226.54 L625.00 226.38 L625.50 226.21 L626.00 226.04 L626.50 225.87 L627.00 225.70 L627.50 225.52 L628.00 225.33 L628.50 225.15 L629.00 224.96 L629.50 224.77 L630.00 224.58 L630.50 224.38 L631.00 224.19 L631.50 223.99 L632.00 223.79 L632.50 223.58 L633.00 223.38 L633.50 223.17 L634.00 222.96 L634.50 222.75 L635.00 222.54 L635.50 222.33 L636.00 222.12 L636.50 221.91 L637.00 221.69 L637.50 221.48 L638.00 221.26 L638.50 221.05 L639.00 220.84 L639.50 220.62 L640.00 220.41 L640.50 220.20 L641.00 219.98 L641.50 219.77 L642.00 219.56 L642.50 219.35 L643.00 219.15 L643.50 218.94 L644.00 218.73 L644.50 218.52 L645.00 218.32 L645.50 218.11 L646.00 217.90 L646.50 217.70 L647.00 217.49 L647.50 217.28 L648.00 217.07 L648.50 216.86 L649.00 216.64 L649.50 216.43 L650.00 216.21 L650.50 216.00 L651.00 215.78 L651.50 215.55 L652.00 215.33 L652.50 215.10 L653.00 214.87 L653.50 214.63 L654.00 214.40 L654.50 214.16 L655.00 213.91 L655.50 213.66 L656.00 213.41 L656.50 213.15 L657.00 212.89 L657.50 212.63 L658.00 212.35 L658.50 212.08 L659.00 211.79 L659.50 211.50 L660.00 211.20 L660.50 210.90 L661.00 210.59 L661.50 210.27 L662.00 209.95 L662.50 209.62 L663.00 209.29 L663.50 208.95 L664.00 208.61 L664.50 208.27 L665.00 207.92 L665.50 207.58 L666.00 207.23 L666.50 206.87 L667.00 206.52 L667.50 206.17 L668.00 205.81 L668.50 205.46 L669.00 205.10 L669.50 204.75 L670.00 204.39 L670.50 204.04 L671.00 203.69 L671.50 203.34 L672.00 203.00 L672.50 202.65 L673.00 202.30 L673.50 201.94 L674.00 201.58 L674.50 201.22 L675.00 200.85 L675.50 200.48 L676.00 200.11 L676.50 199.73 L677.00 199.36 L677.50 198.98 L678.00 198.60 L678.50 198.23 L679.00 197.86 L679.50 197.49 L680.00 197.12 L680.50 196.75 L681.00 196.39 L681.50 196.03 L682.00 195.68 L682.50 195.33 L683.00 194.99 L683.50 194.66 L684.00 194.33 L684.50 194.02 L685.00 193.71 L685.50 193.40 L686.00 193.11 L686.50 192.83 L687.00 192.56 L687.50 192.28 L688.00 192.02 L688.50 191.76 L689.00 191.50 L689.50 191.25 L690.00 191.00 L690.50 190.76 L691.00 190.53 L691.50 190.30 L692.00 190.07 L692.50 189.85 L693.00 189.64 L693.50 189.43 L694.00 189.22 L694.50 189.02 L695.00 188.83 L695.50 188.64 L696.00 188.46 L696.50 188.28 L697.00 188.11 L697.50 187.95 L698.00 187.79 L698.50 187.63 L699.00 187.48 L699.50 187.34 L700.00 187.20 L700.50 187.07 L701.00 186.94 L701.50 186.82 L702.00 186.70 L702.50 186.59 L703.00 186.48 L703.50 186.38 L704.00 186.29 L704.50 186.20 L705.00 186.11 L705.50 186.04 L706.00 185.96 L706.50 185.89 L707.00 185.83 L707.50 185.77 L708.00 185.72 L708.50 185.67 L709.00 185.63 L709.50 185.59 L710.00 185.56 L710.50 185.54 L711.00 185.52 L711.50 185.50 L712.00 185.49 L712.50 185.49 L713.00 185.49 L713.50 185.49 L714.00 185.50 L714.50 185.52 L715.00 185.54 L715.50 185.56 L716.00 185.59 L716.50 185.62 L717.00 185.66 L717.50 185.71 L718.00 185.75 L718.50 185.81 L719.00 185.87 L719.50 185.93 L720.00 186.00 L720.50 186.08 L721.00 186.16 L721.50 186.24 L722.00 186.34 L722.50 186.44 L723.00 186.54 L723.50 186.65 L724.00 186.77 L724.50 186.90 L725.00 187.03 L725.50 187.17 L726.00 187.31 L726.50 187.47 L727.00 187.63 L727.50 187.80 L728.00 187.97 L728.50 188.15 L729.00 188.34 L729.50 188.53 L730.00 188.73 L730.50 188.94 L731.00 189.15 L731.50 189.37 L732.00 189.60 L732.50 189.83 L733.00 190.07 L733.50 190.31 L734.00 190.56 L734.50 190.82 L735.00 191.08 L735.50 191.36 L736.00 191.63 L736.50 191.92 L737.00 192.21 L737.50 192.51 L738.00 192.82 L738.50 193.13 L739.00 193.45 L739.50 193.77 L740.00 194.11 L740.50 194.45 L741.00 194.80 L741.50 195.16 L742.00 195.52 L742.50 195.89 L743.00 196.28 L743.50 196.67 L744.00 197.07 L744.50 197.47 L745.00 197.89 L745.50 198.32 L746.00 198.75 L746.50 199.19 L747.00 199.63 L747.50 200.08 L748.00 200.54 L748.50 201.01 L749.00 201.48 L749.50 201.96 L750.00 202.44 L750.50 202.92 L751.00 203.41 L751.50 203.91 L752.00 204.41 L752.50 204.91 L753.00 205.42 L753.50 205.93 L754.00 206.44 L754.50 206.96 L755.00 207.48 L755.50 208.00 L756.00 208.53 L756.50 209.06 L757.00 209.60 L757.50 210.14 L758.00 210.70 L758.50 211.26 L759.00 211.82 L759.50 212.40 L760.00 212.97 L760.50 213.56 L761.00 214.15 L761.50 214.75 L762.00 215.35 L762.50 215.96 L763.00 216.57 L763.50 217.19 L764.00 217.82 L764.50 218.45 L765.00 219.08 L765.50 219.72 L766.00 220.37 L766.50 221.02 L767.00 221.67 L767.50 222.33 L768.00 223.01 L768.50 223.70 L769.00 224.41 L769.50 225.13 L770.00 225.85 L770.50 226.59 L771.00 227.33 L771.50 228.08 L772.00 228.83 L772.50 229.59 L773.00 230.34 L773.50 231.10 L774.00 231.85 L774.50 232.59 L775.00 233.33 L775.50 234.07 L776.00 234.79 L776.50 235.51 L777.00 236.21 L777.50 236.90 L778.00 237.58 L778.50 238.25 L779.00 238.91 L779.50 239.57 L780.00 240.23 L780.50 240.88 L781.00 241.52 L781.50 242.16 L782.00 242.80 L782.50 243.44 L783.00 244.07 L783.50 244.70 L784.00 245.34 L784.50 245.97 L785.00 246.60 L785.50 247.23 L786.00 247.86 L786.50 248.50 L787.00 249.14 L787.50 249.78 L788.00 250.42 L788.50 251.07 L789.00 251.72 L789.50 252.38 L790.00 253.04 L790.50 253.71 L791.00 254.39 L791.50 255.07 L792.00 255.76 L792.50 256.45 L793.00 257.14 L793.50 257.84 L794.00 258.54 L794.50 259.24 L795.00 259.94 L795.50 260.64 L796.00 261.35 L796.50 262.06 L797.00 262.77 L797.50 263.48 L798.00 264.19 L798.50 264.90 L799.00 265.62 L799.50 266.33 L800.00 267.05 L800.50 267.77 L801.00 268.49 L801.50 269.21 L802.00 269.93 L802.50 270.65 L803.00 271.37 L803.50 272.09 L804.00 272.81 L804.50 273.53 L805.00 274.25 L805.50 274.97 L806.00 275.69 L806.50 276.41 L807.00 277.13 L807.50 277.84 L808.00 278.56 L808.50 279.27 L809.00 279.99 L809.50 280.70" stroke-dasharray="5.7 4.8" stroke-dashoffset="6.66"/>
</g>
<g clip-path="url(#cb)" fill="none" stroke="#000" stroke-width="3.7" stroke-linejoin="round">
<path d="M124.41 564.05 L195.25 574.20 L236.69 574.19 L266.09 575.90 L288.90 574.21 L307.53 572.56 L323.29 571.34 L336.94 570.35 L348.97 568.48 L359.74 565.56 L369.48 562.66 L378.38 560.59 L386.56 559.30 L394.13 557.43 L401.18 554.88 L407.78 552.56 L413.97 551.17 L419.82 550.66 L425.34 549.82 L430.58 548.16 L435.57 546.29 L440.32 544.73 L444.87 543.52 L449.22 542.47 L453.39 541.46 L457.40 540.43 L461.26 539.36 L464.97 538.24 L468.56 537.10 L472.02 536.28 L475.38 535.27 L478.62 534.51 L481.77 533.60 L484.82 532.90 L487.78 532.02 L490.66 531.27 L493.46 530.70 L496.18 529.46 L498.84 528.69 L501.43 527.62 L503.95 527.00 L506.41 526.46 L508.82 525.74 L511.17 525.21 L513.46 524.60 L515.71 523.88 L517.91 523.60 L520.06 522.85 L522.17 522.81 L524.23 521.89 L526.26 521.61 L528.24 520.99 L530.19 520.69 L532.10 519.89 L533.97 519.74 L535.82 519.03 L537.62 518.87 L539.40 518.27 L541.15 517.71 L542.87 517.05 L544.56 517.00 L546.22 516.51 L547.85 516.39 L549.46 515.49 L551.05 515.34 L552.61 514.96 L554.14 514.54 L555.66 514.16 L557.15 513.80 L558.62 513.22 L560.07 512.75 L561.50 512.60 L562.91 512.59 L564.30 512.58 L565.67 512.10 L567.03 511.83 L568.36 511.45 L569.68 511.14 L570.98 510.67 L572.27 510.63 L573.54 510.77 L574.79 509.68 L576.03 509.28 L577.26 510.16 L578.46 509.21 L579.66 509.31 L580.84 509.07 L582.01 507.96 L583.16 509.43 L584.31 508.96 L585.44 508.02 L586.55 508.15 L587.66 507.68 L588.75 507.02 L589.83 507.28 L590.90 507.41 L591.96 507.69 L593.01 507.36 L594.05 506.90 L595.07 507.54 L596.09 506.25 L597.10 507.09 L598.10 507.22 L599.08 506.33 L600.06 505.35 L601.03 505.84 L601.99 506.52 L602.94 506.68 L603.88 507.31 L604.82 505.60 L605.74 506.23 L606.66 506.64 L607.57 506.05 L608.47 504.46 L609.36 506.64 L610.24 507.68 L611.12 506.69 L611.99 505.20 L612.85 505.47 L613.71 505.83 L614.56 507.45 L615.40 505.92 L616.23 505.44 L617.06 506.51 L617.88 505.17 L618.70 506.74 L619.50 504.71 L620.30 504.96 L621.10 506.09 L621.89 506.88 L622.67 506.46 L623.45 506.42 L624.22 504.85 L624.99 506.10 L625.75 506.49 L626.50 506.84 L627.25 508.14 L627.99 507.57 L628.73 508.87 L629.46 508.47 L630.19 508.33 L630.91 509.02 L631.63 509.59 L632.34 510.28 L633.05 509.26 L633.75 509.81 L634.45 508.99 L635.14 512.30 L635.83 512.51 L636.51 511.27 L637.19 511.37 L637.87 511.02 L638.54 512.86 L639.20 513.33 L639.87 515.76 L640.52 514.29 L641.18 513.74 L641.83 512.56 L642.47 516.92 L643.11 516.21 L643.75 514.93 L644.38 517.25 L645.01 516.00 L645.63 521.65 L646.26 519.87 L646.87 519.91 L647.49 519.75 L648.10 518.39 L648.70 521.02 L649.31 520.20 L649.91 522.97 L650.50 520.85 L651.09 522.70 L651.68 525.45 L652.27 526.49 L652.85 524.27 L653.43 524.53 L654.01 527.55 L654.58 528.13 L655.15 526.89 L655.72 527.79 L656.28 528.40 L656.84 528.51 L657.40 529.64 L657.95 532.18 L658.50 532.24 L659.05 534.23 L659.59 532.71 L660.14 533.30 L660.67 533.09 L661.21 534.59 L661.74 534.05 L662.28 534.23 L662.80 537.36 L663.33 538.75 L663.85 538.80 L664.37 539.96 L664.89 539.54 L665.40 539.23 L665.92 540.71 L666.43 540.92 L666.93 540.86 L667.44 540.97 L667.94 541.87 L668.44 544.04 L668.94 544.90 L669.43 544.98 L669.93 547.60 L670.42 547.08 L670.90 548.21 L671.39 549.58 L671.87 548.28 L672.35 547.87 L672.83 551.34 L673.31 550.65 L673.78 553.41 L674.25 553.19 L674.72 554.62 L675.19 555.14 L675.66 553.06 L676.12 556.62 L676.58 555.99 L677.04 556.67 L677.50 557.76 L677.96 559.72 L678.41 560.60 L678.86 561.49 L679.31 559.57 L679.76 561.39 L680.20 560.36 L680.64 563.38 L681.09 564.84 L681.53 564.23 L681.96 566.00 L682.40 566.74 L682.83 568.29 L683.27 567.23 L683.70 568.00 L684.12 568.85 L684.55 572.16 L684.98 572.30 L685.40 571.90 L685.82 573.07 L686.24 573.80 L686.66 574.72 L687.07 575.16 L687.49 575.88 L687.90 575.81 L688.31 577.28 L688.72 580.43 L689.13 580.17 L689.54 580.56 L689.94 581.14 L690.35 582.28 L690.75 583.44 L691.15 583.30 L691.55 585.01 L691.94 585.91 L692.34 585.79 L692.73 586.61 L693.12 587.26 L693.51 588.06 L693.90 590.87 L694.29 588.47 L694.68 591.42 L695.06 591.93 L695.45 592.77 L695.83 594.34 L696.21 596.21 L696.59 596.00 L696.97 596.62 L697.34 596.98 L697.72 598.29 L698.09 600.16 L698.46 599.67 L698.84 599.74 L699.20 600.44 L699.57 601.42 L699.94 601.95 L700.31 605.26 L700.67 605.33 L701.03 605.55 L701.40 608.06 L701.76 606.76 L702.11 608.98 L702.47 609.85 L702.83 608.32 L703.19 609.13 L703.54 610.58 L703.89 613.23 L704.24 614.45 L704.59 612.75 L704.94 615.85 L705.29 615.25 L705.64 616.08 L705.99 616.76 L706.33 617.82 L706.67 617.17 L707.02 618.83 L707.36 619.45 L707.70 622.02 L708.04 624.47 L708.37 625.97 L708.71 623.75 L709.05 623.22 L709.38 625.39 L709.71 625.72 L710.05 629.49 L710.38 628.94 L710.71 628.50 L711.04 631.02 L711.37 631.48 L711.69 630.17 L712.02 632.12 L712.34 633.27 L712.67 634.38 L712.99 635.35 L713.31 635.73 L713.63 637.12 L713.95 637.19 L714.27 637.73 L714.59 641.00 L714.91 640.69 L715.22 641.63 L715.54 640.46 L715.85 642.75 L716.16 644.59 L716.48 643.35 L716.79 646.60 L717.10 645.98 L717.41 647.65 L717.72 647.98 L718.02 649.20 L718.33 651.06 L718.64 650.33 L718.94 653.17 L719.24 651.70 L719.55 652.43 L719.85 654.95 L720.15 654.06 L720.45 655.63 L720.75 657.80 L721.05 658.98 L721.34 656.89 L721.64 660.05 L721.94 662.32 L722.23 662.52 L722.53 661.97 L722.82 662.50 L723.11 663.69 L723.40 663.72 L723.69 665.49 L723.98 666.45 L724.27 667.37 L724.56 669.58 L724.85 669.05 L725.14 668.69 L725.42 672.07 L725.71 670.81 L725.99 672.30 L726.27 673.48 L726.56 674.12 L726.84 674.32 L727.12 675.92 L727.40 679.21 L727.68 677.26 L727.96 678.58 L728.24 680.68 L728.51 681.14 L728.79 682.00 L729.07 682.94 L729.34 680.94 L729.62 682.88 L729.89 684.70 L730.16 685.90 L730.44 687.52 L730.71 687.52 L730.98 687.64 L731.25 688.74 L731.52 689.31 L731.79 690.58 L732.05 691.82 L732.32 691.62 L732.59 691.95 L732.85 692.72 L733.12 695.47 L733.38 696.46 L733.65 696.97 L733.91 697.63 L734.17 698.41 L734.43 698.37 L734.69 699.82 L734.96 698.90 L735.21 700.54 L735.47 700.79 L735.73 703.04 L735.99 702.51 L736.25 703.76 L736.50 705.05 L736.76 706.78 L737.01 705.41 L737.27 706.03 L737.52 708.56 L737.78 707.41 L738.03 709.73 L738.28 709.47 L738.53 710.70 L738.78 709.75 L739.03 713.04 L739.28 712.58 L739.53 712.94 L739.78 716.67 L740.03 716.06 L740.28 719.60 L740.52 717.25 L740.77 717.24 L741.01 718.44 L741.26 720.68 L741.50 719.79 L741.75 721.01 L741.99 721.81 L742.23 721.12 L742.47 722.89 L742.71 722.99 L742.96 722.98 L743.20 725.83 L743.44 726.35 L743.67 726.48 L743.91 726.23 L744.15 725.85 L744.39 729.06 L744.63 729.20 L744.86 728.33 L745.10 730.67 L745.33 729.92 L745.57 732.13 L745.80 733.01 L746.03 733.93 L746.27 734.50 L746.50 735.16 L746.73 734.55 L746.96 736.01 L747.20 736.58 L747.43 737.56 L747.66 738.76 L747.88 739.80 L748.11 741.51 L748.34 738.00 L748.57 741.67 L748.80 741.76 L749.02 744.92 L749.25 744.26 L749.48 742.36 L749.70 745.10 L749.93 744.86 L750.15 747.06 L750.38 745.69 L750.60 747.32 L750.82 747.96 L751.04 748.67 L751.27 748.86 L751.49 748.28 L751.71 751.25 L751.93 752.45 L752.15 752.06 L752.37 751.77 L752.59 753.66 L752.81 754.68 L753.02 754.60 L753.24 755.43 L753.46 757.51 L753.68 755.64 L753.89 756.86 L754.11 756.16 L754.32 758.02 L754.54 758.64 L754.75 759.07 L754.97 759.98 L755.18 763.12 L755.39 761.77 L755.61 762.50 L755.82 765.46 L756.03 763.84 L756.24 762.81 L756.45 765.59 L756.66 764.89 L756.87 768.10 L757.08 765.85 L757.29 767.15 L757.50 766.76 L757.71 769.09 L757.92 768.61 L758.12 770.19 L758.33 770.51 L758.54 770.90 L758.74 773.08 L758.95 773.70 L759.16 773.45 L759.36 773.11 L759.57 773.56 L759.77 775.52 L759.97 778.26 L760.18 776.03 L760.38 776.32 L760.58 777.02 L760.78 777.23 L760.99 777.97 L761.19 779.35 L761.39 781.60 L761.59 780.77 L761.79 780.87 L761.99 780.37 L762.19 782.80 L762.39 783.17 L762.59 782.57 L762.78 783.31 L762.98 784.96 L763.18 786.61 L763.38 786.82 L763.57 787.00 L763.77 787.07 L763.97 788.31 L764.16 788.57 L764.36 791.34 L764.55 788.63 L764.75 789.98 L764.94 792.21 L765.13 791.26 L765.33 793.54 L765.52 792.66 L765.71 793.43 L765.91 793.50 L766.10 793.07 L766.29 794.06 L766.48 797.83 L766.67 796.84 L766.86 797.38 L767.05 798.30 L767.24 798.49 L767.43 799.52 L767.62 798.81 L767.81 799.42 L768.00 801.20 L768.19 800.44 L768.37 800.03 L768.56 801.70 L768.75 801.95 L768.93 803.67 L769.12 802.90 L769.31 803.13 L769.49 804.42 L769.68 806.87 L769.86 805.83 L770.05 806.60 L770.23 807.01 L770.42 807.85 L770.60 809.04 L770.78 810.06 L770.97 807.58 L771.15 811.14 L771.33 810.33 L771.51 810.56 L771.69 813.83 L771.88 811.82 L772.06 814.48 L772.24 814.05 L772.42 812.60 L772.60 814.67 L772.78 815.46 L772.96 815.14 L773.14 813.48 L773.32 816.01 L773.49 816.70 L773.67 816.33 L773.85 819.80 L774.03 818.27 L774.20 818.66 L774.38 819.29 L774.56 819.34 L774.73 819.88 L774.91 821.29 L775.09 822.04 L775.26 821.75 L775.44 822.70 L775.61 821.93 L775.79 824.37 L775.96 823.63 L776.13 825.12 L776.31 824.53 L776.48 825.45 L776.66 826.70 L776.83 825.80 L777.00 830.00 L777.17 828.02 L777.34 828.51 L777.52 828.37 L777.69 831.22 L777.86 831.53 L778.03 830.96 L778.20 829.81 L778.37 831.19 L778.54 832.82 L778.71 832.21 L778.88 832.05 L779.05 832.56 L779.22 833.49 L779.39 834.79 L779.55 834.63 L779.72 835.81 L779.89 839.09 L780.06 838.58 L780.22 836.28 L780.39 838.17 L780.56 838.42 L780.72 838.69 L780.89 840.38 L781.06 839.51 L781.22 840.02 L781.39 840.47 L781.55 841.24 L781.72 843.13 L781.88 843.12 L782.04 841.50 L782.21 842.90 L782.37 843.04 L782.54 845.15 L782.70 845.05 L782.86 846.21 L783.02 845.75 L783.19 844.40 L783.35 847.25 L783.51 847.52 L783.67 848.29 L783.83 846.97 L783.99 848.84 L784.15 848.56 L784.32 849.05 L784.48 850.57 L784.64 851.06 L784.80 850.30 L784.96 849.96 L785.11 849.68 L785.27 852.07 L785.43 854.25 L785.59 853.55 L785.75 851.83 L785.91 853.70 L786.07 855.46 L786.22 857.19 L786.38 857.17 L786.54 856.84 L786.69 857.15 L786.85 856.37 L787.01 857.45 L787.16 858.04 L787.32 858.07 L787.48 859.38 L787.63 859.40 L787.79 860.60 L787.94 862.17 L788.10 861.94 L788.25 862.09 L788.40 861.90 L788.56 861.09 L788.71 862.96 L788.87 864.08 L789.02 863.00 L789.17 865.72 L789.33 864.60 L789.48 865.77 L789.63 865.53 L789.78 865.07 L789.93 868.85 L790.09 866.08 L790.24 868.62 L790.39 867.61 L790.54 868.90 L790.69 868.27 L790.84 869.12 L790.99 870.91 L791.14 872.39 L791.29 870.06 L791.44 871.37 L791.59 872.76 L791.74 871.63 L791.89 873.43 L792.04 872.38 L792.19 874.22 L792.34 874.51 L792.48 875.73 L792.63 875.33 L792.78 874.22 L792.93 876.53 L793.07 875.21 L793.22 877.51 L793.37 878.72 L793.52 878.25 L793.66 877.54 L793.81 879.73 L793.95 879.15 L794.10 878.18 L794.25 879.51 L794.39 881.73 L794.54 880.45 L794.68 881.31 L794.83 881.29 L794.97 880.38 L795.12 882.00 L795.26 883.30 L795.40 883.59 L795.55 883.64 L795.69 882.12 L795.84 885.91 L795.98 885.84 L796.12 886.58 L796.26 887.29 L796.41 885.98 L796.55 886.25 L796.69 887.60 L796.83 889.39 L796.98 886.46 L797.12 888.35 L797.26 888.29 L797.40 890.00 L797.54 891.33 L797.68 890.00 L797.82 889.48 L797.96 891.20 L798.10 891.29 L798.24 890.45 L798.38 893.31 L798.52 892.32 L798.66 893.95 L798.80 892.38 L798.94 895.21 L799.08 893.09 L799.22 896.01 L799.36 893.57 L799.50 897.18 L799.63 895.84 L799.77 895.08 L799.91 896.82 L800.05 897.81 L800.18 896.90 L800.32 897.81 L800.46 898.99 L800.60 898.97 L800.73 896.49 L800.87 899.54 L801.01 900.81 L801.14 901.09 L801.28 902.21 L801.41 900.93 L801.55 904.58 L801.68 903.24 L801.82 903.16 L801.96 904.35 L802.09 904.62 L802.22 904.18 L802.36 903.87 L802.49 905.92 L802.63 905.73 L802.76 903.82 L802.90 905.01 L803.03 906.99 L803.16 907.04 L803.30 907.61 L803.43 908.38 L803.56 908.28 L803.70 910.12 L803.83 908.35 L803.96 908.95 L804.09 910.07 L804.23 910.89 L804.36 911.34 L804.49 912.44 L804.62 910.87 L804.75 912.91 L804.88 912.61 L805.01 911.50 L805.15 912.80 L805.28 915.42 L805.41 914.52 L805.54 913.66 L805.67 912.13 L805.80 914.18 L805.93 914.61 L806.06 915.79 L806.19 918.41 L806.32 917.24 L806.45 917.20 L806.57 916.34 L806.70 916.48 L806.83 917.85 L806.96 917.98 L807.09 921.85 L807.22 918.83 L807.35 919.00 L807.47 921.14 L807.60 920.47 L807.73 919.55 L807.86 922.46 L807.98 921.24 L808.11 920.61 L808.24 922.65 L808.37 923.20 L808.49 922.76 L808.62 924.18 L808.75 924.69 L808.87 923.37 L809.00 922.57 L809.12 922.62 L809.25 925.27 L809.38 927.01" stroke-dasharray="12 4.75"/>
<path d="M124.41 564.05 L195.25 574.20 L236.69 574.19 L266.09 575.90 L288.90 574.21 L307.53 572.55 L323.29 571.31 L336.94 570.30 L348.97 568.89 L359.74 566.91 L369.48 565.05 L378.38 563.93 L386.56 563.60 L394.13 562.50 L401.18 560.49 L407.78 558.75 L413.97 558.17 L419.82 558.70 L425.34 558.99 L430.58 558.58 L435.57 557.98 L440.32 557.53 L444.87 557.19 L449.22 556.92 L453.39 556.72 L457.40 556.59 L461.26 556.56 L464.97 556.53 L468.56 556.48 L472.02 556.66 L475.38 556.57 L478.62 556.69 L481.77 556.66 L484.82 556.87 L487.78 556.96 L490.66 557.27 L493.46 557.85 L496.18 557.86 L498.84 558.31 L501.43 558.45 L503.95 558.94 L506.41 559.44 L508.82 559.72 L511.17 560.16 L513.46 560.50 L515.71 560.71 L517.91 561.33 L520.06 561.48 L522.17 562.30 L524.23 562.28 L526.26 562.86 L528.24 563.11 L530.19 563.69 L532.10 563.82 L533.97 564.59 L535.82 564.82 L537.62 565.54 L539.40 565.81 L541.15 566.06 L542.87 566.15 L544.56 566.77 L546.22 566.95 L547.85 567.45 L549.46 567.18 L551.05 567.59 L552.61 567.76 L554.14 567.86 L555.66 567.97 L557.15 568.08 L558.62 567.96 L560.07 567.91 L561.50 568.14 L562.91 568.48 L564.30 568.79 L565.67 568.64 L567.03 568.67 L568.36 568.56 L569.68 568.51 L570.98 568.28 L572.27 568.45 L573.54 568.77 L574.79 567.91 L576.03 567.68 L577.26 568.66 L578.46 567.89 L579.66 568.09 L580.84 567.95 L582.01 566.97 L583.16 568.42 L584.31 568.02 L585.44 567.16 L586.55 567.29 L587.66 566.85 L588.75 566.21 L589.83 566.43 L590.90 566.52 L591.96 566.75 L593.01 566.38 L594.05 565.88 L595.07 566.40 L596.09 565.07 L597.10 565.74 L598.10 565.74 L599.08 564.74 L600.06 563.66 L601.03 563.96 L601.99 564.44 L602.94 564.41 L603.88 564.85 L604.82 563.06 L605.74 563.49 L606.66 563.71 L607.57 563.00 L608.47 561.35 L609.36 563.28 L610.24 564.14 L611.12 563.09 L611.99 561.60 L612.85 561.78 L613.71 562.07 L614.56 563.56 L615.40 562.06 L616.23 561.53 L617.06 562.47 L617.88 561.09 L618.70 562.44 L619.50 560.33 L620.30 560.34 L621.10 561.15 L621.89 561.59 L622.67 560.84 L623.45 560.42 L624.22 558.53 L624.99 559.31 L625.75 559.27 L626.50 559.21 L627.25 560.05 L627.99 559.13 L628.73 559.99 L629.46 559.24 L630.19 558.74 L630.91 559.02 L631.63 559.18 L632.34 559.45 L633.05 558.09 L633.75 558.20 L634.45 557.01 L635.14 559.72 L635.83 559.47 L636.51 557.83 L637.19 557.45 L637.87 556.66 L638.54 557.92 L639.20 557.90 L639.87 559.73 L640.52 557.85 L641.18 556.86 L641.83 555.26 L642.47 558.91 L643.11 557.76 L643.75 556.06 L644.38 557.78 L645.01 556.10 L645.63 560.97 L646.26 558.76 L646.87 558.29 L647.49 557.63 L648.10 555.81 L648.70 557.78 L649.31 556.49 L649.91 558.59 L650.50 556.06 L651.09 557.30 L651.68 559.39 L652.27 559.87 L652.85 557.26 L653.43 557.00 L654.01 559.37 L654.58 559.42 L655.15 557.75 L655.72 558.11 L656.28 558.19 L656.84 557.81 L657.40 558.38 L657.95 560.31 L658.50 559.87 L659.05 561.27 L659.59 559.34 L660.14 559.41 L660.67 558.72 L661.21 559.67 L661.74 558.67 L662.28 558.37 L662.80 560.88 L663.33 561.74 L663.85 561.34 L664.37 561.98 L664.89 561.15 L665.40 560.43 L665.92 561.40 L666.43 561.19 L666.93 560.72 L667.44 560.41 L667.94 560.86 L668.44 562.51 L668.94 562.92 L669.43 562.59 L669.93 564.66 L670.42 563.74 L670.90 564.40 L671.39 565.27 L671.87 563.60 L672.35 562.77 L672.83 565.62 L673.31 564.51 L673.78 566.66 L674.25 565.99 L674.72 566.87 L675.19 566.88 L675.66 564.41 L676.12 567.30 L676.58 566.20 L677.04 566.35 L677.50 566.88 L677.96 568.25 L678.41 568.59 L678.86 568.93 L679.31 566.62 L679.76 567.87 L680.20 566.40 L680.64 568.80 L681.09 569.70 L681.53 568.65 L681.96 569.86 L682.40 570.10 L682.83 571.09 L683.27 569.62 L683.70 569.91 L684.12 570.29 L684.55 573.03 L684.98 572.78 L685.40 572.03 L685.82 572.80 L686.24 573.15 L686.66 573.71 L687.07 573.79 L687.49 574.14 L687.90 573.73 L688.31 574.78 L688.72 577.42 L689.13 576.82 L689.54 576.84 L689.94 577.03 L690.35 577.76 L690.75 578.49 L691.15 578.01 L691.55 579.27 L691.94 579.78 L692.34 579.30 L692.73 579.73 L693.12 580.00 L693.51 580.42 L693.90 582.75 L694.29 580.14 L694.68 582.61 L695.06 582.77 L695.45 583.25 L695.83 584.43 L696.21 585.91 L696.59 585.41 L696.97 585.72 L697.34 585.78 L697.72 586.76 L698.09 588.28 L698.46 587.57 L698.84 587.40 L699.20 587.83 L699.57 588.53 L699.94 588.82 L700.31 591.75 L700.67 591.61 L701.03 591.62 L701.40 593.80 L701.76 592.36 L702.11 594.28 L702.47 594.91 L702.83 593.26 L703.19 593.83 L703.54 595.01 L703.89 597.34 L704.24 598.29 L704.59 596.47 L704.94 599.21 L705.29 598.43 L705.64 599.00 L705.99 599.42 L706.33 600.21 L706.67 599.36 L707.02 600.70 L707.36 601.03 L707.70 603.23 L708.04 605.30 L708.37 606.46 L708.71 604.08 L709.05 603.30 L709.38 605.08 L709.71 605.10 L710.05 608.39 L710.38 607.55 L710.71 606.82 L711.04 608.89 L711.37 608.99 L711.69 607.41 L712.02 608.92 L712.34 609.67 L712.67 610.38 L712.99 610.94 L713.31 610.95 L713.63 611.91 L713.95 611.63 L714.27 611.78 L714.59 614.53 L714.91 613.88 L715.22 614.41 L715.54 612.93 L715.85 614.74 L716.16 616.14 L716.48 614.59 L716.79 617.32 L717.10 616.38 L717.41 617.60 L717.72 617.57 L718.02 618.38 L718.33 619.80 L718.64 618.77 L718.94 621.14 L719.24 619.41 L719.55 619.78 L719.85 621.86 L720.15 620.70 L720.45 621.90 L720.75 623.66 L721.05 624.50 L721.34 622.23 L721.64 624.97 L721.94 626.86 L722.23 626.81 L722.53 626.05 L722.82 626.34 L723.11 627.26 L723.40 627.10 L723.69 628.61 L723.98 629.35 L724.27 630.08 L724.56 632.03 L724.85 631.39 L725.14 630.93 L725.42 634.03 L725.71 632.74 L725.99 634.06 L726.27 635.09 L726.56 635.63 L726.84 635.74 L727.12 637.21 L727.40 640.26 L727.68 638.36 L727.96 639.56 L728.24 641.50 L728.51 641.89 L728.79 642.66 L729.07 643.50 L729.34 641.56 L729.62 643.35 L729.89 645.03 L730.16 646.12 L730.44 647.61 L730.71 647.55 L730.98 647.60 L731.25 648.58 L731.52 649.05 L731.79 650.19 L732.05 651.29 L732.32 651.02 L732.59 651.25 L732.85 651.89 L733.12 654.41 L733.38 655.26 L733.65 655.65 L733.91 656.19 L734.17 656.82 L734.43 656.69 L734.69 657.98 L734.96 657.01 L735.21 658.47 L735.47 658.62 L735.73 660.66 L735.99 660.06 L736.25 661.16 L736.50 662.30 L736.76 663.85 L737.01 662.46 L737.27 662.97 L737.52 665.29 L737.78 664.11 L738.03 666.24 L738.28 665.92 L738.53 667.02 L738.78 666.04 L739.03 669.10 L739.28 668.61 L739.53 668.88 L739.78 672.37 L740.03 671.74 L740.28 675.06 L740.52 672.78 L740.77 672.73 L741.01 673.83 L741.26 675.93 L741.50 675.06 L741.75 676.20 L741.99 676.95 L742.23 676.28 L742.47 677.96 L742.71 678.05 L742.96 678.04 L743.20 680.74 L743.44 681.24 L743.67 681.38 L743.91 681.14 L744.15 680.79 L744.39 683.86 L744.63 684.00 L744.86 683.18 L745.10 685.42 L745.33 684.72 L745.57 686.83 L745.80 687.68 L746.03 688.57 L746.27 689.12 L746.50 689.76 L746.73 689.19 L746.96 690.58 L747.20 691.13 L747.43 692.06 L747.66 693.20 L747.88 694.20 L748.11 695.82 L748.34 692.49 L748.57 695.97 L748.80 696.05 L749.02 699.06 L749.25 698.44 L749.48 696.63 L749.70 699.23 L749.93 699.00 L750.15 701.09 L750.38 699.79 L750.60 701.34 L750.82 701.95 L751.04 702.63 L751.27 702.81 L751.49 702.25 L751.71 705.07 L751.93 706.22 L752.15 705.84 L752.37 705.57 L752.59 707.37 L752.81 708.34 L753.02 708.26 L753.24 709.05 L753.46 711.02 L753.68 709.25 L753.89 710.41 L754.11 709.75 L754.32 711.51 L754.54 712.10 L754.75 712.51 L754.97 713.38 L755.18 716.36 L755.39 715.08 L755.61 715.77 L755.82 718.58 L756.03 717.04 L756.24 716.06 L756.45 718.70 L756.66 718.04 L756.87 721.09 L757.08 718.95 L757.29 720.19 L757.50 719.82 L757.71 722.04 L757.92 721.58 L758.12 723.08 L758.33 723.38 L758.54 723.75 L758.74 725.83 L758.95 726.41 L759.16 726.18 L759.36 725.85 L759.57 726.28 L759.77 728.14 L759.97 730.75 L760.18 728.63 L760.38 728.90 L760.58 729.57 L760.78 729.77 L760.99 730.47 L761.19 731.78 L761.39 733.92 L761.59 733.13 L761.79 733.23 L761.99 732.75 L762.19 735.07 L762.39 735.41 L762.59 734.85 L762.78 735.55 L762.98 737.11 L763.18 738.68 L763.38 738.89 L763.57 739.05 L763.77 739.12 L763.97 740.30 L764.16 740.54 L764.36 743.18 L764.55 740.60 L764.75 741.89 L764.94 744.01 L765.13 743.11 L765.33 745.27 L765.52 744.43 L765.71 745.17 L765.91 745.23 L766.10 744.83 L766.29 745.77 L766.48 749.35 L766.67 748.40 L766.86 748.92 L767.05 749.80 L767.24 749.98 L767.43 750.95 L767.62 750.28 L767.81 750.86 L768.00 752.55 L768.19 751.82 L768.37 751.44 L768.56 753.03 L768.75 753.26 L768.93 754.90 L769.12 754.17 L769.31 754.38 L769.49 755.61 L769.68 757.94 L769.86 756.95 L770.05 757.68 L770.23 758.07 L770.42 758.87 L770.60 760.00 L770.78 760.97 L770.97 758.61 L771.15 762.00 L771.33 761.23 L771.51 761.45 L771.69 764.56 L771.88 762.64 L772.06 765.17 L772.24 764.76 L772.42 763.39 L772.60 765.35 L772.78 766.10 L772.96 765.80 L773.14 764.23 L773.32 766.63 L773.49 767.29 L773.67 766.93 L773.85 770.23 L774.03 768.77 L774.20 769.14 L774.38 769.74 L774.56 769.79 L774.73 770.31 L774.91 771.64 L775.09 772.36 L775.26 772.09 L775.44 772.99 L775.61 772.26 L775.79 774.58 L775.96 773.87 L776.13 775.29 L776.31 774.72 L776.48 775.60 L776.66 776.79 L776.83 775.93 L777.00 779.93 L777.17 778.04 L777.34 778.50 L777.52 778.37 L777.69 781.08 L777.86 781.37 L778.03 780.83 L778.20 779.74 L778.37 781.05 L778.54 782.61 L778.71 782.02 L778.88 781.87 L779.05 782.36 L779.22 783.24 L779.39 784.47 L779.55 784.33 L779.72 785.45 L779.89 788.56 L780.06 788.08 L780.22 785.89 L780.39 787.68 L780.56 787.92 L780.72 788.19 L780.89 789.79 L781.06 788.96 L781.22 789.44 L781.39 789.87 L781.55 790.61 L781.72 792.40 L781.88 792.39 L782.04 790.85 L782.21 792.18 L782.37 792.31 L782.54 794.32 L782.70 794.23 L782.86 795.33 L783.02 794.89 L783.19 793.61 L783.35 796.32 L783.51 796.57 L783.67 797.30 L783.83 796.05 L783.99 797.83 L784.15 797.56 L784.32 798.03 L784.48 799.48 L784.64 799.94 L784.80 799.22 L784.96 798.90 L785.11 798.63 L785.27 800.90 L785.43 802.97 L785.59 802.30 L785.75 800.67 L785.91 802.45 L786.07 804.13 L786.22 805.77 L786.38 805.74 L786.54 805.43 L786.69 805.73 L786.85 804.98 L787.01 806.01 L787.16 806.58 L787.32 806.61 L787.48 807.85 L787.63 807.87 L787.79 809.01 L787.94 810.50 L788.10 810.28 L788.25 810.42 L788.40 810.24 L788.56 809.47 L788.71 811.25 L788.87 812.32 L789.02 811.29 L789.17 813.88 L789.33 812.81 L789.48 813.92 L789.63 813.69 L789.78 813.25 L789.93 816.85 L790.09 814.22 L790.24 816.63 L790.39 815.67 L790.54 816.89 L790.69 816.30 L790.84 817.10 L790.99 818.81 L791.14 820.21 L791.29 817.99 L791.44 819.24 L791.59 820.56 L791.74 819.49 L791.89 821.20 L792.04 820.21 L792.19 821.95 L792.34 822.22 L792.48 823.39 L792.63 823.01 L792.78 821.96 L792.93 824.15 L793.07 822.89 L793.22 825.08 L793.37 826.22 L793.52 825.78 L793.66 825.11 L793.81 827.19 L793.95 826.64 L794.10 825.72 L794.25 826.98 L794.39 829.09 L794.54 827.87 L794.68 828.69 L794.83 828.67 L794.97 827.81 L795.12 829.34 L795.26 830.58 L795.40 830.86 L795.55 830.91 L795.69 829.46 L795.84 833.06 L795.98 833.00 L796.12 833.70 L796.26 834.37 L796.41 833.13 L796.55 833.39 L796.69 834.67 L796.83 836.37 L796.98 833.59 L797.12 835.38 L797.26 835.33 L797.40 836.95 L797.54 838.21 L797.68 836.95 L797.82 836.45 L797.96 838.09 L798.10 838.17 L798.24 837.38 L798.38 840.09 L798.52 839.16 L798.66 840.70 L798.80 839.21 L798.94 841.90 L799.08 839.89 L799.22 842.66 L799.36 840.34 L799.50 843.77 L799.63 842.50 L799.77 841.78 L799.91 843.43 L800.05 844.37 L800.18 843.51 L800.32 844.37 L800.46 845.49 L800.60 845.47 L800.73 843.12 L800.87 846.01 L801.01 847.22 L801.14 847.49 L801.28 848.56 L801.41 847.33 L801.55 850.81 L801.68 849.53 L801.82 849.46 L801.96 850.58 L802.09 850.85 L802.22 850.43 L802.36 850.13 L802.49 852.08 L802.63 851.89 L802.76 850.08 L802.90 851.22 L803.03 853.09 L803.16 853.14 L803.30 853.69 L803.43 854.41 L803.56 854.33 L803.70 856.07 L803.83 854.39 L803.96 854.96 L804.09 856.02 L804.23 856.81 L804.36 857.23 L804.49 858.27 L804.62 856.79 L804.75 858.73 L804.88 858.44 L805.01 857.38 L805.15 858.62 L805.28 861.11 L805.41 860.25 L805.54 859.44 L805.67 857.98 L805.80 859.93 L805.93 860.34 L806.06 861.46 L806.19 863.95 L806.32 862.84 L806.45 862.80 L806.57 861.99 L806.70 862.12 L806.83 863.42 L806.96 863.55 L807.09 867.22 L807.22 864.35 L807.35 864.51 L807.47 866.54 L807.60 865.91 L807.73 865.03 L807.86 867.80 L807.98 866.64 L808.11 866.05 L808.24 867.98 L808.37 868.50 L808.49 868.08 L808.62 869.43 L808.75 869.91 L808.87 868.66 L809.00 867.91 L809.12 867.95 L809.25 870.47 L809.38 872.12" stroke-dasharray="5.7 4.8"/>
</g>
<g stroke="#767676" stroke-width="1.1" fill="none">
<rect x="103.5" y="23.5" width="706.0" height="667.0"/>
<line x1="103.5" x2="809.5" y1="460.5" y2="460.5"/>
<path d="M103.50 23.50 L103.50 30.50 M103.50 460.50 L103.50 453.50 M103.50 690.50 L103.50 683.50 M174.34 23.50 L174.34 27.50 M174.34 460.50 L174.34 456.50 M174.34 690.50 L174.34 686.50 M215.78 23.50 L215.78 27.50 M215.78 460.50 L215.78 456.50 M215.78 690.50 L215.78 686.50 M245.18 23.50 L245.18 27.50 M245.18 460.50 L245.18 456.50 M245.18 690.50 L245.18 686.50 M267.99 23.50 L267.99 30.50 M267.99 460.50 L267.99 453.50 M267.99 690.50 L267.99 683.50 M286.62 23.50 L286.62 27.50 M286.62 460.50 L286.62 456.50 M286.62 690.50 L286.62 686.50 M302.38 23.50 L302.38 27.50 M302.38 460.50 L302.38 456.50 M302.38 690.50 L302.38 686.50 M316.03 23.50 L316.03 27.50 M316.03 460.50 L316.03 456.50 M316.03 690.50 L316.03 686.50 M328.07 23.50 L328.07 27.50 M328.07 460.50 L328.07 456.50 M328.07 690.50 L328.07 686.50 M338.83 23.50 L338.83 30.50 M338.83 460.50 L338.83 453.50 M338.83 690.50 L338.83 683.50 M409.68 23.50 L409.68 27.50 M409.68 460.50 L409.68 456.50 M409.68 690.50 L409.68 686.50 M451.12 23.50 L451.12 27.50 M451.12 460.50 L451.12 456.50 M451.12 690.50 L451.12 686.50 M480.52 23.50 L480.52 27.50 M480.52 460.50 L480.52 456.50 M480.52 690.50 L480.52 686.50 M503.32 23.50 L503.32 30.50 M503.32 460.50 L503.32 453.50 M503.32 690.50 L503.32 683.50 M521.96 23.50 L521.96 27.50 M521.96 460.50 L521.96 456.50 M521.96 690.50 L521.96 686.50 M537.71 23.50 L537.71 27.50 M537.71 460.50 L537.71 456.50 M537.71 690.50 L537.71 686.50 M551.36 23.50 L551.36 27.50 M551.36 460.50 L551.36 456.50 M551.36 690.50 L551.36 686.50 M563.40 23.50 L563.40 27.50 M563.40 460.50 L563.40 456.50 M563.40 690.50 L563.40 686.50 M574.17 23.50 L574.17 30.50 M574.17 460.50 L574.17 453.50 M574.17 690.50 L574.17 683.50 M645.01 23.50 L645.01 27.50 M645.01 460.50 L645.01 456.50 M645.01 690.50 L645.01 686.50 M686.45 23.50 L686.45 27.50 M686.45 460.50 L686.45 456.50 M686.45 690.50 L686.45 686.50 M715.85 23.50 L715.85 27.50 M715.85 460.50 L715.85 456.50 M715.85 690.50 L715.85 686.50 M738.66 23.50 L738.66 30.50 M738.66 460.50 L738.66 453.50 M738.66 690.50 L738.66 683.50 M757.29 23.50 L757.29 27.50 M757.29 460.50 L757.29 456.50 M757.29 690.50 L757.29 686.50 M773.05 23.50 L773.05 27.50 M773.05 460.50 L773.05 456.50 M773.05 690.50 L773.05 686.50 M786.69 23.50 L786.69 27.50 M786.69 460.50 L786.69 456.50 M786.69 690.50 L786.69 686.50 M798.73 23.50 L798.73 27.50 M798.73 460.50 L798.73 456.50 M798.73 690.50 L798.73 686.50 M809.50 23.50 L809.50 30.50 M809.50 460.50 L809.50 453.50 M809.50 690.50 L809.50 683.50 M103.50 460.65 L111.00 460.65 M809.50 460.65 L802.00 460.65 M103.50 438.80 L108.00 438.80 M809.50 438.80 L805.00 438.80 M103.50 416.95 L108.00 416.95 M809.50 416.95 L805.00 416.95 M103.50 395.10 L108.00 395.10 M809.50 395.10 L805.00 395.10 M103.50 373.25 L108.00 373.25 M809.50 373.25 L805.00 373.25 M103.50 351.40 L111.00 351.40 M809.50 351.40 L802.00 351.40 M103.50 329.55 L108.00 329.55 M809.50 329.55 L805.00 329.55 M103.50 307.70 L108.00 307.70 M809.50 307.70 L805.00 307.70 M103.50 285.85 L108.00 285.85 M809.50 285.85 L805.00 285.85 M103.50 264.00 L108.00 264.00 M809.50 264.00 L805.00 264.00 M103.50 242.15 L111.00 242.15 M809.50 242.15 L802.00 242.15 M103.50 220.30 L108.00 220.30 M809.50 220.30 L805.00 220.30 M103.50 198.45 L108.00 198.45 M809.50 198.45 L805.00 198.45 M103.50 176.60 L108.00 176.60 M809.50 176.60 L805.00 176.60 M103.50 154.75 L108.00 154.75 M809.50 154.75 L805.00 154.75 M103.50 132.90 L111.00 132.90 M809.50 132.90 L802.00 132.90 M103.50 111.05 L108.00 111.05 M809.50 111.05 L805.00 111.05 M103.50 89.20 L108.00 89.20 M809.50 89.20 L805.00 89.20 M103.50 67.35 L108.00 67.35 M809.50 67.35 L805.00 67.35 M103.50 45.50 L108.00 45.50 M809.50 45.50 L805.00 45.50 M103.50 23.65 L111.00 23.65 M809.50 23.65 L802.00 23.65 M103.50 690.20 L107.50 690.20 M809.50 690.20 L805.50 690.20 M103.50 678.50 L107.50 678.50 M809.50 678.50 L805.50 678.50 M103.50 666.80 L110.00 666.80 M809.50 666.80 L803.00 666.80 M103.50 655.10 L107.50 655.10 M809.50 655.10 L805.50 655.10 M103.50 643.40 L107.50 643.40 M809.50 643.40 L805.50 643.40 M103.50 631.70 L107.50 631.70 M809.50 631.70 L805.50 631.70 M103.50 620.00 L110.00 620.00 M809.50 620.00 L803.00 620.00 M103.50 608.30 L107.50 608.30 M809.50 608.30 L805.50 608.30 M103.50 596.60 L107.50 596.60 M809.50 596.60 L805.50 596.60 M103.50 584.90 L107.50 584.90 M809.50 584.90 L805.50 584.90 M103.50 573.20 L110.00 573.20 M809.50 573.20 L803.00 573.20 M103.50 561.50 L107.50 561.50 M809.50 561.50 L805.50 561.50 M103.50 549.80 L107.50 549.80 M809.50 549.80 L805.50 549.80 M103.50 538.10 L107.50 538.10 M809.50 538.10 L805.50 538.10 M103.50 526.40 L110.00 526.40 M809.50 526.40 L803.00 526.40 M103.50 514.70 L107.50 514.70 M809.50 514.70 L805.50 514.70 M103.50 503.00 L107.50 503.00 M809.50 503.00 L805.50 503.00 M103.50 491.30 L107.50 491.30 M809.50 491.30 L805.50 491.30 M103.50 479.60 L110.00 479.60 M809.50 479.60 L803.00 479.60 M103.50 467.90 L107.50 467.90 M809.50 467.90 L805.50 467.90"/>
</g>
<line x1="103.5" x2="809.5" y1="573.2" y2="573.2" stroke="#000" stroke-width="1.4"/>
<path d="M103.50 460.50 L103.50 463.50 M174.34 460.50 L174.34 463.00 M215.78 460.50 L215.78 463.00 M245.18 460.50 L245.18 463.00 M267.99 460.50 L267.99 463.50 M286.62 460.50 L286.62 463.00 M302.38 460.50 L302.38 463.00 M316.03 460.50 L316.03 463.00 M328.07 460.50 L328.07 463.00 M338.83 460.50 L338.83 463.50 M409.68 460.50 L409.68 463.00 M451.12 460.50 L451.12 463.00 M480.52 460.50 L480.52 463.00 M503.32 460.50 L503.32 463.50 M521.96 460.50 L521.96 463.00 M537.71 460.50 L537.71 463.00 M551.36 460.50 L551.36 463.00 M563.40 460.50 L563.40 463.00 M574.17 460.50 L574.17 463.50 M645.01 460.50 L645.01 463.00 M686.45 460.50 L686.45 463.00 M715.85 460.50 L715.85 463.00 M738.66 460.50 L738.66 463.50 M757.29 460.50 L757.29 463.00 M773.05 460.50 L773.05 463.00 M786.69 460.50 L786.69 463.00 M798.73 460.50 L798.73 463.00 M809.50 460.50 L809.50 463.50" stroke="#b0b0b0" stroke-width="1" fill="none"/>
<text x="97.4" y="32.6" font-size="26.6" text-anchor="end" textLength="50.4" lengthAdjust="spacingAndGlyphs" >1.05</text>
<text x="97.4" y="141.9" font-size="26.6" text-anchor="end" textLength="50.4" lengthAdjust="spacingAndGlyphs" >1.00</text>
<text x="97.4" y="251.2" font-size="26.6" text-anchor="end" textLength="50.4" lengthAdjust="spacingAndGlyphs" >0.95</text>
<text x="97.4" y="360.4" font-size="26.6" text-anchor="end" textLength="50.4" lengthAdjust="spacingAndGlyphs" >0.90</text>
<text x="97.4" y="469.7" font-size="26.6" text-anchor="end" textLength="50.4" lengthAdjust="spacingAndGlyphs" >0.85</text>
<text x="97.3" y="488.7" font-size="26.6" text-anchor="end" textLength="13.8" lengthAdjust="spacingAndGlyphs" >4</text>
<text x="97.3" y="535.5" font-size="26.6" text-anchor="end" textLength="13.8" lengthAdjust="spacingAndGlyphs" >2</text>
<text x="97.3" y="582.3" font-size="26.6" text-anchor="end" textLength="13.8" lengthAdjust="spacingAndGlyphs" >0</text>
<text x="97.3" y="629.1" font-size="26.6" text-anchor="end" textLength="30.0" lengthAdjust="spacingAndGlyphs" >−2</text>
<text x="97.3" y="675.9" font-size="26.6" text-anchor="end" textLength="30.0" lengthAdjust="spacingAndGlyphs" >−4</text>
<text x="103.1" y="722.3" font-size="26.6" text-anchor="middle" textLength="50.4" lengthAdjust="spacingAndGlyphs" >0.01</text>
<text x="267.6" y="722.3" font-size="26.6" text-anchor="middle" textLength="50.4" lengthAdjust="spacingAndGlyphs" >0.05</text>
<text x="338.4" y="722.3" font-size="26.6" text-anchor="middle" textLength="50.4" lengthAdjust="spacingAndGlyphs" >0.10</text>
<text x="502.9" y="722.3" font-size="26.6" text-anchor="middle" textLength="50.4" lengthAdjust="spacingAndGlyphs" >0.50</text>
<text x="573.8" y="722.3" font-size="26.6" text-anchor="middle" textLength="13.8" lengthAdjust="spacingAndGlyphs" >1</text>
<text x="738.3" y="722.3" font-size="26.6" text-anchor="middle" textLength="13.8" lengthAdjust="spacingAndGlyphs" >5</text>
<text x="809.1" y="722.3" font-size="26.6" text-anchor="middle" textLength="26.8" lengthAdjust="spacingAndGlyphs" >10</text>
<text x="164.2" y="80.4" font-size="27.4" text-anchor="start" textLength="45.6" lengthAdjust="spacingAndGlyphs" >z=1</text>
<text x="181.8" y="664.9" font-size="27.0" text-anchor="start" textLength="29.4" lengthAdjust="spacingAndGlyphs" >F5</text>
<text x="213.0" y="341.6" font-size="28.4" text-anchor="start" textLength="143.8" lengthAdjust="spacingAndGlyphs" >Simulations</text>
<text x="216.0" y="388.7" font-size="28.0" text-anchor="start" textLength="285.4" lengthAdjust="spacingAndGlyphs" >Lombriser et al. (2013)</text>
<text x="216.6" y="416.2" font-size="28.0" text-anchor="start" textLength="264.4" lengthAdjust="spacingAndGlyphs" >Cataneo et al. (2016)</text>
<text x="400.2" y="767.1" font-size="26.2" text-anchor="start" textLength="112.4" lengthAdjust="spacingAndGlyphs" >k [h/Mpc]</text>
<path d="M160.90 341.40 L170.50 341.40 L165.70 331.80 Z" fill="none" stroke="#a80202" stroke-width="1.1"/>
<line x1="128.2" x2="207.2" y1="381.3" y2="381.3" stroke="#000" stroke-width="3.7" stroke-dasharray="12 4.75"/>
<line x1="128.2" x2="207.2" y1="408.9" y2="408.9" stroke="#000" stroke-width="3.7" stroke-dasharray="5.7 4.8"/>
<text transform="translate(44.7 600.9) rotate(-90)" font-size="26" textLength="55.5" lengthAdjust="spacingAndGlyphs">Δ[%]</text>
<g transform="translate(25.0 266.8) rotate(-90)">
<g fill="none" stroke="#1a1a1a" stroke-linecap="round" stroke-linejoin="round">
<path d="M7.6 -16.5 C7.4 -11 6.8 -5 5.9 -1.5 C5.4 0.3 3.2 0.8 1.6 -0.8 C1.0 -1.6 1.2 -3.0 2.4 -3.8" stroke-width="2.3"/>
<path d="M7.6 -16.9 C5.5 -17.7 2.2 -17.3 0.9 -14.5 C0.2 -12.8 0.6 -10.8 2.0 -10.2" stroke-width="1.4"/>
<path d="M7.6 -16.9 C10 -18.2 14 -18.6 16.5 -17.2 C18.6 -15.8 18.4 -12.4 16 -10 C14.5 -8.6 12.5 -7.6 10.5 -7.4" stroke-width="1.6"/>
<path d="M11.6 -8.3 L15.9 -1.5 C16.6 -0.3 17.6 0.1 18.4 -0.9" stroke-width="2.6"/>
</g>
<text x="21.8" y="0" font-size="26" textLength="26.6" lengthAdjust="spacingAndGlyphs">(k)</text>
</g>
</svg></body></html>
